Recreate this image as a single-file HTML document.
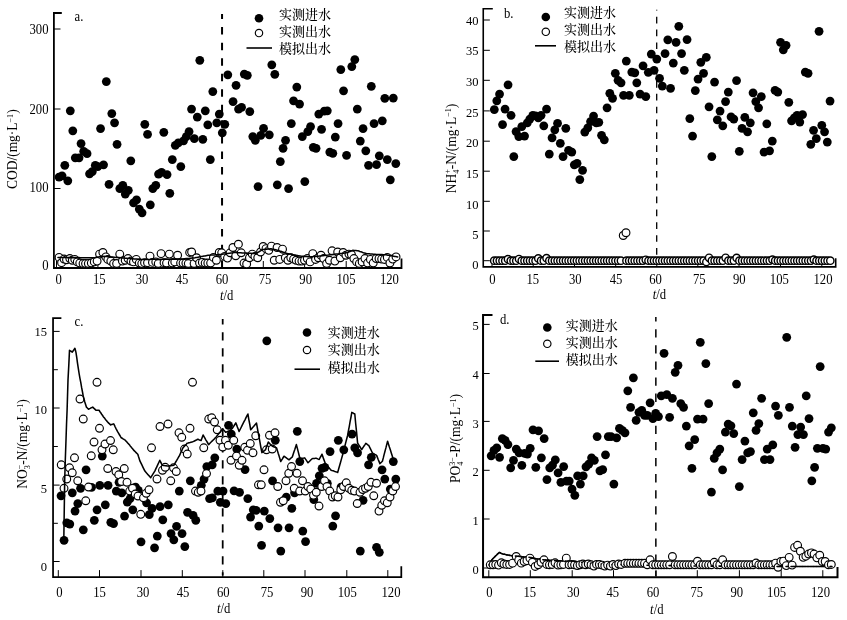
<!DOCTYPE html>
<html lang="zh"><head><meta charset="utf-8"><title>Figure</title>
<style>
html,body{margin:0;padding:0;background:#fff;}
body{width:847px;height:620px;overflow:hidden;}
svg{display:block;}
text{font-family:"Liberation Serif","Noto Serif CJK SC",serif;fill:#000;}
.n{font-size:14.1px;}
.cj{font-family:"Noto Serif CJK SC","Liberation Serif",serif;font-size:13px;font-weight:500;}
.ax{stroke:#000;stroke-width:1.5;fill:none;stroke-linecap:square;}
.tk{stroke:#000;stroke-width:1;fill:none;}
.ln{stroke:#000;stroke-width:1.55;fill:none;stroke-linejoin:round;stroke-linecap:round;}
.ds{stroke:#000;fill:none;}
.f{fill:#000;}
.o{fill:#fff;stroke:#000;stroke-width:1.15;}
</style></head><body>
<svg width="847" height="620" viewBox="0 0 847 620">
<rect width="847" height="620" fill="#fff"/>
<g id="panel-a">
<path class="ax" style="stroke-width:1.8" d="M60.9,13.0H53.9V268H401.5v-8.5"/>
<path class="tk" d="M53.9,29h6.6M53.9,109h6.6M53.9,188.5h6.6M56.5,268v-7M97.9,268v-7M139.3,268v-7M180.7,268v-7M222,268v-7M263.3,268v-7M304.6,268v-7M346.2,268v-7M387.7,268v-7"/>
<text class="n" style="font-size:14.1px" transform="translate(48.5,34.0) scale(0.9,1)" text-anchor="end">300</text>
<text class="n" style="font-size:14.1px" transform="translate(48.5,113.8) scale(0.9,1)" text-anchor="end">200</text>
<text class="n" style="font-size:14.1px" transform="translate(48.5,192.2) scale(0.9,1)" text-anchor="end">100</text>
<text class="n" transform="translate(48.5,269.9) scale(0.9,1)" text-anchor="end">0</text>
<text class="n" transform="translate(58.7,283.7) scale(0.9,1)" text-anchor="middle">0</text>
<text class="n" transform="translate(99.3,283.7) scale(0.9,1)" text-anchor="middle">15</text>
<text class="n" transform="translate(142,283.7) scale(0.9,1)" text-anchor="middle">30</text>
<text class="n" transform="translate(182,283.7) scale(0.9,1)" text-anchor="middle">45</text>
<text class="n" transform="translate(222,283.7) scale(0.9,1)" text-anchor="middle">60</text>
<text class="n" transform="translate(265,283.7) scale(0.9,1)" text-anchor="middle">75</text>
<text class="n" transform="translate(305.7,283.7) scale(0.9,1)" text-anchor="middle">90</text>
<text class="n" transform="translate(346,283.7) scale(0.9,1)" text-anchor="middle">105</text>
<text class="n" transform="translate(389.4,283.7) scale(0.9,1)" text-anchor="middle">120</text>
<text class="n" transform="translate(226.7,299.7) scale(0.9,1)" text-anchor="middle"><tspan font-style="italic">t</tspan>/d</text>
<text class="n" transform="translate(74.5,20.6) scale(0.9,1)">a.</text>
<path class="ds" stroke-width="2.0" stroke-dasharray="7.5 8.04" stroke-dashoffset="2.34" d="M222.05,13.9V267"/>
<circle class="f" cx="259" cy="18.2" r="4.3"/>
<circle class="o" cx="259" cy="33" r="3.7"/>
<path class="tk" style="stroke-width:1.6" d="M246.5,48H272"/>
<text class="cj" x="279" y="18.6">实测进水</text>
<text class="cj" x="279" y="35.9">实测出水</text>
<text class="cj" x="279" y="52.9">模拟出水</text>
</g>
<g id="panel-b">
<path class="ax" style="stroke-width:1.6" d="M492,8.7H483.25V266.9H835.7v-7.8"/>
<path class="tk" d="M483.25,20.0h6.6M483.25,50.3h6.6M483.25,80.3h6.6M483.25,110.9h6.6M483.25,141.2h6.6M483.25,171.2h6.6M483.25,201.3h6.6M483.25,231.0h6.6M483.25,260.7h6.6M492,266.9v-7M533.2,266.9v-7M574.5,266.9v-7M615.7,266.9v-7M656.8,266.9v-7M697.8,266.9v-7M739,266.9v-7M780.5,266.9v-7M821.8,266.9v-7"/>
<text class="n" style="font-size:13.5px" transform="translate(478.6,24.6) scale(0.93,1)" text-anchor="end">40</text>
<text class="n" style="font-size:13.5px" transform="translate(478.6,55.3) scale(0.93,1)" text-anchor="end">35</text>
<text class="n" style="font-size:13.5px" transform="translate(478.6,85.7) scale(0.93,1)" text-anchor="end">30</text>
<text class="n" style="font-size:13.5px" transform="translate(478.6,116.9) scale(0.93,1)" text-anchor="end">25</text>
<text class="n" style="font-size:13.5px" transform="translate(478.6,147.4) scale(0.93,1)" text-anchor="end">20</text>
<text class="n" style="font-size:13.5px" transform="translate(478.6,178.2) scale(0.93,1)" text-anchor="end">15</text>
<text class="n" style="font-size:13.5px" transform="translate(478.6,208.7) scale(0.93,1)" text-anchor="end">10</text>
<text class="n" style="font-size:13.5px" transform="translate(478.6,239.2) scale(0.93,1)" text-anchor="end">5</text>
<text class="n" style="font-size:13.5px" transform="translate(478.6,269.3) scale(0.93,1)" text-anchor="end">0</text>
<text class="n" transform="translate(492.3,283.8) scale(0.9,1)" text-anchor="middle">0</text>
<text class="n" transform="translate(532.8,283.8) scale(0.9,1)" text-anchor="middle">15</text>
<text class="n" transform="translate(575.3,283.8) scale(0.9,1)" text-anchor="middle">30</text>
<text class="n" transform="translate(616,283.8) scale(0.9,1)" text-anchor="middle">45</text>
<text class="n" transform="translate(655.5,283.8) scale(0.9,1)" text-anchor="middle">60</text>
<text class="n" transform="translate(699.3,283.8) scale(0.9,1)" text-anchor="middle">75</text>
<text class="n" transform="translate(739.3,283.8) scale(0.9,1)" text-anchor="middle">90</text>
<text class="n" transform="translate(779.3,283.8) scale(0.9,1)" text-anchor="middle">105</text>
<text class="n" transform="translate(823,283.8) scale(0.9,1)" text-anchor="middle">120</text>
<text class="n" transform="translate(659.5,299.4) scale(0.9,1)" text-anchor="middle"><tspan font-style="italic">t</tspan>/d</text>
<text class="n" transform="translate(504,17.9) scale(0.9,1)">b.</text>
<path class="ds" stroke-width="1.3" stroke-dasharray="6.7 6.15" stroke-dashoffset="5.85" d="M656.7,9.7V257"/>
<circle class="f" cx="545.8" cy="17" r="4.3"/>
<circle class="o" cx="545.8" cy="31.8" r="3.7"/>
<path class="tk" style="stroke-width:1.6" d="M535,45.8H556"/>
<text class="cj" x="564" y="17.1">实测进水</text>
<text class="cj" x="564" y="34.1">实测出水</text>
<text class="cj" x="564" y="50.9">模拟出水</text>
</g>
<g id="panel-c">
<path class="ax" style="stroke-width:1.75" d="M60.5,318H53.05V577.1H401.3v-10"/>
<path class="tk" d="M53.05,331.4h6.6M53.05,408h6.6M53.05,485.1h6.6M53.05,561.5h6.6M53.05,369.7h4.8M53.05,446.5h4.8M53.05,523.3h4.8M58.3,577.1v-7M99.5,577.1v-7M141,577.1v-7M182.3,577.1v-7M222.8,577.1v-7M263.8,577.1v-7M305,577.1v-7M346.8,577.1v-7M387.8,577.1v-7"/>
<text class="n" style="font-size:13.5px" transform="translate(47,336.4) scale(0.93,1)" text-anchor="end">15</text>
<text class="n" style="font-size:13.5px" transform="translate(47,414.4) scale(0.93,1)" text-anchor="end">10</text>
<text class="n" style="font-size:13.5px" transform="translate(47,492.5) scale(0.93,1)" text-anchor="end">5</text>
<text class="n" style="font-size:13.5px" transform="translate(47,570.8) scale(0.93,1)" text-anchor="end">0</text>
<text class="n" transform="translate(59.5,597.0) scale(0.9,1)" text-anchor="middle">0</text>
<text class="n" transform="translate(99.5,597.0) scale(0.9,1)" text-anchor="middle">15</text>
<text class="n" transform="translate(143,597.0) scale(0.9,1)" text-anchor="middle">30</text>
<text class="n" transform="translate(183,597.0) scale(0.9,1)" text-anchor="middle">45</text>
<text class="n" transform="translate(223.3,597.0) scale(0.9,1)" text-anchor="middle">60</text>
<text class="n" transform="translate(267,597.0) scale(0.9,1)" text-anchor="middle">75</text>
<text class="n" transform="translate(307,597.0) scale(0.9,1)" text-anchor="middle">90</text>
<text class="n" transform="translate(347.2,597.0) scale(0.9,1)" text-anchor="middle">105</text>
<text class="n" transform="translate(391,597.0) scale(0.9,1)" text-anchor="middle">120</text>
<text class="n" transform="translate(223.6,613.1) scale(0.9,1)" text-anchor="middle"><tspan font-style="italic">t</tspan>/d</text>
<text class="n" transform="translate(74.5,325.5) scale(0.9,1)">c.</text>
<path class="ds" stroke-width="1.75" stroke-dasharray="8.2 7.8" stroke-dashoffset="2.7" d="M222.7,319V575.5"/>
<circle class="f" cx="307" cy="332.5" r="4.3"/>
<circle class="o" cx="307" cy="350" r="3.7"/>
<path class="tk" style="stroke-width:1.6" d="M294.5,369.2H320"/>
<text class="cj" x="327.8" y="337.1">实测进水</text>
<text class="cj" x="327.8" y="354.1">实测出水</text>
<text class="cj" x="327.8" y="371.6">模拟出水</text>
</g>
<g id="panel-d">
<path class="ax" style="stroke-width:2.0" d="M491.5,315H483.05V577.2H837.5v-9.2"/>
<path class="tk" d="M483.05,324.4h6.6M483.05,373.5h6.6M483.05,421.4h6.6M483.05,470.3h6.6M483.05,519h6.6M483.05,568h6.6M488.8,577.2v-7M530.3,577.2v-7M572.2,577.2v-7M613.5,577.2v-7M656,577.2v-7M697.3,577.2v-7M739.4,577.2v-7M781.2,577.2v-7M822.8,577.2v-7"/>
<text class="n" style="font-size:13.4px" transform="translate(478.7,329.9) scale(0.93,1)" text-anchor="end">5</text>
<text class="n" style="font-size:13.4px" transform="translate(478.7,379.1) scale(0.93,1)" text-anchor="end">4</text>
<text class="n" style="font-size:13.4px" transform="translate(478.7,427.5) scale(0.93,1)" text-anchor="end">3</text>
<text class="n" style="font-size:13.4px" transform="translate(478.7,476.3) scale(0.93,1)" text-anchor="end">2</text>
<text class="n" style="font-size:13.4px" transform="translate(478.7,524.9) scale(0.93,1)" text-anchor="end">1</text>
<text class="n" style="font-size:13.4px" transform="translate(478.7,573.8) scale(0.93,1)" text-anchor="end">0</text>
<text class="n" transform="translate(489.5,597.3) scale(0.9,1)" text-anchor="middle">0</text>
<text class="n" transform="translate(529.8,597.3) scale(0.9,1)" text-anchor="middle">15</text>
<text class="n" transform="translate(573.3,597.3) scale(0.9,1)" text-anchor="middle">30</text>
<text class="n" transform="translate(612.8,597.3) scale(0.9,1)" text-anchor="middle">45</text>
<text class="n" transform="translate(653,597.3) scale(0.9,1)" text-anchor="middle">60</text>
<text class="n" transform="translate(696.8,597.3) scale(0.9,1)" text-anchor="middle">75</text>
<text class="n" transform="translate(736.8,597.3) scale(0.9,1)" text-anchor="middle">90</text>
<text class="n" transform="translate(776.6,597.3) scale(0.9,1)" text-anchor="middle">105</text>
<text class="n" transform="translate(820.5,597.3) scale(0.9,1)" text-anchor="middle">120</text>
<text class="n" transform="translate(656.8,613.7) scale(0.9,1)" text-anchor="middle"><tspan font-style="italic">t</tspan>/d</text>
<text class="n" transform="translate(499.9,323.8) scale(0.9,1)">d.</text>
<path class="ds" stroke-width="1.5" stroke-dasharray="8.3 7.8" stroke-dashoffset="3.9" d="M655.85,317V576"/>
<circle class="f" cx="547.3" cy="327.5" r="4.3"/>
<circle class="o" cx="547.3" cy="343.8" r="3.7"/>
<path class="tk" style="stroke-width:1.6" d="M535.3,361.2H559"/>
<text class="cj" x="565.8" y="329.6">实测进水</text>
<text class="cj" x="565.8" y="346.6">实测出水</text>
<text class="cj" x="565.8" y="364.1">模拟出水</text>
</g>
<text class="n" transform="translate(17,149.2) rotate(-90) scale(0.95,1)" text-anchor="middle" style="font-size:14.2px"><tspan>COD/(mg·L<tspan dy="-4.5" font-size="8.5">−1</tspan><tspan dy="4.5">)</tspan></tspan></text>
<text class="n" transform="translate(455.5,148.5) rotate(-90) scale(0.95,1)" text-anchor="middle" style="font-size:14.2px"><tspan>NH<tspan dy="3" font-size="8.5">4</tspan><tspan dy="-8.5" dx="-4.2" font-size="8.5">+</tspan><tspan dy="5.5">-N/(mg·L</tspan><tspan dy="-4.5" font-size="8.5">−1</tspan><tspan dy="4.5">)</tspan></tspan></text>
<text class="n" transform="translate(27,444) rotate(-90) scale(0.95,1)" text-anchor="middle" style="font-size:14.2px"><tspan>NO<tspan dy="3" font-size="8.5">3</tspan><tspan dy="-8.5" dx="-4.2" font-size="8.5">−</tspan><tspan dy="5.5">-N/(mg·L</tspan><tspan dy="-4.5" font-size="8.5">−1</tspan><tspan dy="4.5">)</tspan></tspan></text>
<text class="n" transform="translate(460,438.5) rotate(-90) scale(0.95,1)" text-anchor="middle" style="font-size:14.2px"><tspan>PO<tspan dy="3" font-size="8.5">4</tspan><tspan dy="-8.5" dx="-4.2" font-size="8.5">3−</tspan><tspan dy="5.5">-P/(mg·L</tspan><tspan dy="-4.5" font-size="8.5">−1</tspan><tspan dy="4.5">)</tspan></tspan></text>
<g id="pts-a">
<circle class="f" cx="59.05" cy="177.05" r="4.4"/>
<circle class="f" cx="62.05" cy="175.8" r="4.4"/>
<circle class="f" cx="64.8" cy="165.3" r="4.4"/>
<circle class="f" cx="67.8" cy="180.8" r="4.4"/>
<circle class="f" cx="70.3" cy="110.8" r="4.4"/>
<circle class="f" cx="72.8" cy="130.8" r="4.4"/>
<circle class="f" cx="75.3" cy="157.8" r="4.4"/>
<circle class="f" cx="79.05" cy="157.8" r="4.4"/>
<circle class="f" cx="81.05" cy="143.55" r="4.4"/>
<circle class="f" cx="83.7" cy="151.3" r="4.4"/>
<circle class="f" cx="87.05" cy="153.7" r="4.4"/>
<circle class="f" cx="89.55" cy="173.8" r="4.4"/>
<circle class="f" cx="92.3" cy="171.55" r="4.4"/>
<circle class="f" cx="95.3" cy="165.3" r="4.4"/>
<circle class="f" cx="97.8" cy="166.55" r="4.4"/>
<circle class="f" cx="100.55" cy="128.55" r="4.4"/>
<circle class="f" cx="103.55" cy="164.8" r="4.4"/>
<circle class="f" cx="106.3" cy="81.55" r="4.4"/>
<circle class="f" cx="109.05" cy="184.3" r="4.4"/>
<circle class="f" cx="111.8" cy="113.55" r="4.4"/>
<circle class="f" cx="114.55" cy="122.8" r="4.4"/>
<circle class="f" cx="117.05" cy="144.3" r="4.4"/>
<circle class="f" cx="119.8" cy="188.55" r="4.4"/>
<circle class="f" cx="122.8" cy="185.3" r="4.4"/>
<circle class="f" cx="125.3" cy="194.05" r="4.4"/>
<circle class="f" cx="128.3" cy="190.3" r="4.4"/>
<circle class="f" cx="130.8" cy="160.8" r="4.4"/>
<circle class="f" cx="133.55" cy="202.8" r="4.4"/>
<circle class="f" cx="136.55" cy="199.8" r="4.4"/>
<circle class="f" cx="139.3" cy="209.05" r="4.4"/>
<circle class="f" cx="142.05" cy="212.8" r="4.4"/>
<circle class="f" cx="144.8" cy="124.3" r="4.4"/>
<circle class="f" cx="147.55" cy="134.3" r="4.4"/>
<circle class="f" cx="150.3" cy="204.8" r="4.4"/>
<circle class="f" cx="152.8" cy="188.55" r="4.4"/>
<circle class="f" cx="155.8" cy="185.3" r="4.4"/>
<circle class="f" cx="158.55" cy="174.05" r="4.4"/>
<circle class="f" cx="161.55" cy="172.3" r="4.4"/>
<circle class="f" cx="163.8" cy="132.3" r="4.4"/>
<circle class="f" cx="167.05" cy="174.55" r="4.4"/>
<circle class="f" cx="169.8" cy="193.3" r="4.4"/>
<circle class="f" cx="172.3" cy="159.55" r="4.4"/>
<circle class="f" cx="175.3" cy="145.3" r="4.4"/>
<circle class="f" cx="178.3" cy="142.8" r="4.4"/>
<circle class="f" cx="180.8" cy="166.55" r="4.4"/>
<circle class="f" cx="183.55" cy="140.8" r="4.4"/>
<circle class="f" cx="186.3" cy="136.55" r="4.4"/>
<circle class="f" cx="189.05" cy="131.55" r="4.4"/>
<circle class="f" cx="191.55" cy="109.05" r="4.4"/>
<circle class="f" cx="194.3" cy="138.55" r="4.4"/>
<circle class="f" cx="197.3" cy="117.05" r="4.4"/>
<circle class="f" cx="199.8" cy="60.3" r="4.4"/>
<circle class="f" cx="202.8" cy="139.3" r="4.4"/>
<circle class="f" cx="205.3" cy="110.8" r="4.4"/>
<circle class="f" cx="207.8" cy="124.8" r="4.4"/>
<circle class="f" cx="210.3" cy="159.55" r="4.4"/>
<circle class="f" cx="212.8" cy="91.55" r="4.4"/>
<circle class="f" cx="216.8" cy="122.8" r="4.4"/>
<circle class="f" cx="219.3" cy="114.05" r="4.4"/>
<circle class="f" cx="222.3" cy="132.8" r="4.4"/>
<circle class="f" cx="224.8" cy="124.3" r="4.4"/>
<circle class="f" cx="227.8" cy="74.8" r="4.4"/>
<circle class="f" cx="233.05" cy="101.55" r="4.4"/>
<circle class="f" cx="236.05" cy="85.3" r="4.4"/>
<circle class="f" cx="238.55" cy="109.05" r="4.4"/>
<circle class="f" cx="241.55" cy="107.3" r="4.4"/>
<circle class="f" cx="244.3" cy="74.05" r="4.4"/>
<circle class="f" cx="247.3" cy="75.3" r="4.4"/>
<circle class="f" cx="249.8" cy="111.55" r="4.4"/>
<circle class="f" cx="252.8" cy="136.55" r="4.4"/>
<circle class="f" cx="255.3" cy="140.3" r="4.4"/>
<circle class="f" cx="258.05" cy="186.55" r="4.4"/>
<circle class="f" cx="260.8" cy="135.3" r="4.4"/>
<circle class="f" cx="263.55" cy="128.3" r="4.4"/>
<circle class="f" cx="269.3" cy="134.8" r="4.4"/>
<circle class="f" cx="271.8" cy="64.8" r="4.4"/>
<circle class="f" cx="274.8" cy="74.3" r="4.4"/>
<circle class="f" cx="277.3" cy="184.8" r="4.4"/>
<circle class="f" cx="280.3" cy="161.55" r="4.4"/>
<circle class="f" cx="283.05" cy="148.3" r="4.4"/>
<circle class="f" cx="285.55" cy="140.3" r="4.4"/>
<circle class="f" cx="288.55" cy="188.55" r="4.4"/>
<circle class="f" cx="291.3" cy="123.55" r="4.4"/>
<circle class="f" cx="293.55" cy="100.8" r="4.4"/>
<circle class="f" cx="296.8" cy="87.05" r="4.4"/>
<circle class="f" cx="299.55" cy="104.05" r="4.4"/>
<circle class="f" cx="302.3" cy="136.55" r="4.4"/>
<circle class="f" cx="304.8" cy="181.55" r="4.4"/>
<circle class="f" cx="307.8" cy="131.55" r="4.4"/>
<circle class="f" cx="310.55" cy="126.55" r="4.4"/>
<circle class="f" cx="313.3" cy="147.3" r="4.4"/>
<circle class="f" cx="316.05" cy="148.3" r="4.4"/>
<circle class="f" cx="318.8" cy="114.05" r="4.4"/>
<circle class="f" cx="321.55" cy="129.3" r="4.4"/>
<circle class="f" cx="324.3" cy="111.05" r="4.4"/>
<circle class="f" cx="327.3" cy="110.8" r="4.4"/>
<circle class="f" cx="329.8" cy="152.05" r="4.4"/>
<circle class="f" cx="332.8" cy="153.3" r="4.4"/>
<circle class="f" cx="335.3" cy="137.05" r="4.4"/>
<circle class="f" cx="338.05" cy="123.55" r="4.4"/>
<circle class="f" cx="340.8" cy="69.55" r="4.4"/>
<circle class="f" cx="343.55" cy="90.8" r="4.4"/>
<circle class="f" cx="346.55" cy="155.3" r="4.4"/>
<circle class="f" cx="351.8" cy="66.55" r="4.4"/>
<circle class="f" cx="354.8" cy="59.55" r="4.4"/>
<circle class="f" cx="357.3" cy="109.05" r="4.4"/>
<circle class="f" cx="360.3" cy="141.05" r="4.4"/>
<circle class="f" cx="363.05" cy="128.55" r="4.4"/>
<circle class="f" cx="365.8" cy="150.8" r="4.4"/>
<circle class="f" cx="368.55" cy="165.3" r="4.4"/>
<circle class="f" cx="371.3" cy="86.3" r="4.4"/>
<circle class="f" cx="374.05" cy="123.55" r="4.4"/>
<circle class="f" cx="376.55" cy="164.55" r="4.4"/>
<circle class="f" cx="379.3" cy="155.8" r="4.4"/>
<circle class="f" cx="382.3" cy="120.8" r="4.4"/>
<circle class="f" cx="384.8" cy="98.3" r="4.4"/>
<circle class="f" cx="387.3" cy="159.55" r="4.4"/>
<circle class="f" cx="390.3" cy="179.8" r="4.4"/>
<circle class="f" cx="393.3" cy="98.05" r="4.4"/>
<circle class="f" cx="395.8" cy="163.55" r="4.4"/>
<circle class="o" cx="59.09" cy="257.42" r="3.9"/>
<circle class="o" cx="61.57" cy="262.71" r="3.9"/>
<circle class="o" cx="64.05" cy="259.07" r="3.9"/>
<circle class="o" cx="66.53" cy="259.74" r="3.9"/>
<circle class="o" cx="69.83" cy="258.58" r="3.9"/>
<circle class="o" cx="72.31" cy="260.23" r="3.9"/>
<circle class="o" cx="74.79" cy="259.4" r="3.9"/>
<circle class="o" cx="77.27" cy="261.88" r="3.9"/>
<circle class="o" cx="79.75" cy="263.04" r="3.9"/>
<circle class="o" cx="83.06" cy="263.54" r="3.9"/>
<circle class="o" cx="85.54" cy="263.54" r="3.9"/>
<circle class="o" cx="88.35" cy="263.54" r="3.9"/>
<circle class="o" cx="91.32" cy="263.04" r="3.9"/>
<circle class="o" cx="94.3" cy="261.88" r="3.9"/>
<circle class="o" cx="97.11" cy="261.06" r="3.9"/>
<circle class="o" cx="99.59" cy="254.12" r="3.9"/>
<circle class="o" cx="102.89" cy="252.46" r="3.9"/>
<circle class="o" cx="105.87" cy="256.93" r="3.9"/>
<circle class="o" cx="107.85" cy="259.4" r="3.9"/>
<circle class="o" cx="110.83" cy="261.06" r="3.9"/>
<circle class="o" cx="113.64" cy="263.54" r="3.9"/>
<circle class="o" cx="116.61" cy="263.54" r="3.9"/>
<circle class="o" cx="119.75" cy="254.12" r="3.9"/>
<circle class="o" cx="122.4" cy="261.06" r="3.9"/>
<circle class="o" cx="125.21" cy="260.23" r="3.9"/>
<circle class="o" cx="128.02" cy="258.58" r="3.9"/>
<circle class="o" cx="130.99" cy="261.06" r="3.9"/>
<circle class="o" cx="133.47" cy="261.88" r="3.9"/>
<circle class="o" cx="136.28" cy="259.4" r="3.9"/>
<circle class="o" cx="139.26" cy="263.04" r="3.9"/>
<circle class="o" cx="141.74" cy="263.54" r="3.9"/>
<circle class="o" cx="144.55" cy="262.71" r="3.9"/>
<circle class="o" cx="147.52" cy="262.71" r="3.9"/>
<circle class="o" cx="150.0" cy="256.1" r="3.9"/>
<circle class="o" cx="152.48" cy="262.38" r="3.9"/>
<circle class="o" cx="155.79" cy="261.88" r="3.9"/>
<circle class="o" cx="158.26" cy="263.54" r="3.9"/>
<circle class="o" cx="161.07" cy="253.62" r="3.9"/>
<circle class="o" cx="164.05" cy="262.71" r="3.9"/>
<circle class="o" cx="166.53" cy="263.04" r="3.9"/>
<circle class="o" cx="169.34" cy="254.12" r="3.9"/>
<circle class="o" cx="172.31" cy="263.04" r="3.9"/>
<circle class="o" cx="174.79" cy="261.88" r="3.9"/>
<circle class="o" cx="177.6" cy="255.27" r="3.9"/>
<circle class="o" cx="180.58" cy="263.04" r="3.9"/>
<circle class="o" cx="183.06" cy="263.04" r="3.9"/>
<circle class="o" cx="185.87" cy="263.04" r="3.9"/>
<circle class="o" cx="188.31" cy="263.54" r="3.9"/>
<circle class="o" cx="189.67" cy="252.46" r="3.9"/>
<circle class="o" cx="191.61" cy="251.97" r="3.9"/>
<circle class="o" cx="194.09" cy="263.54" r="3.9"/>
<circle class="o" cx="196.57" cy="257.75" r="3.9"/>
<circle class="o" cx="199.55" cy="263.04" r="3.9"/>
<circle class="o" cx="202.36" cy="262.38" r="3.9"/>
<circle class="o" cx="205.17" cy="263.04" r="3.9"/>
<circle class="o" cx="207.81" cy="263.04" r="3.9"/>
<circle class="o" cx="210.62" cy="263.04" r="3.9"/>
<circle class="o" cx="213.43" cy="257.42" r="3.9"/>
<circle class="o" cx="216.4" cy="260.23" r="3.9"/>
<circle class="o" cx="219.21" cy="252.46" r="3.9"/>
<circle class="o" cx="221.69" cy="252.79" r="3.9"/>
<circle class="o" cx="224.67" cy="256.43" r="3.9"/>
<circle class="o" cx="227.48" cy="258.08" r="3.9"/>
<circle class="o" cx="230.12" cy="252.79" r="3.9"/>
<circle class="o" cx="232.93" cy="247.5" r="3.9"/>
<circle class="o" cx="235.74" cy="255.77" r="3.9"/>
<circle class="o" cx="238.39" cy="244.2" r="3.9"/>
<circle class="o" cx="241.2" cy="252.79" r="3.9"/>
<circle class="o" cx="244.01" cy="263.04" r="3.9"/>
<circle class="o" cx="246.65" cy="264.03" r="3.9"/>
<circle class="o" cx="249.46" cy="257.75" r="3.9"/>
<circle class="o" cx="252.27" cy="254.12" r="3.9"/>
<circle class="o" cx="254.92" cy="256.43" r="3.9"/>
<circle class="o" cx="257.73" cy="257.75" r="3.9"/>
<circle class="o" cx="260.54" cy="251.97" r="3.9"/>
<circle class="o" cx="263.18" cy="246.51" r="3.9"/>
<circle class="o" cx="265.99" cy="248.66" r="3.9"/>
<circle class="o" cx="268.8" cy="250.31" r="3.9"/>
<circle class="o" cx="271.45" cy="246.18" r="3.9"/>
<circle class="o" cx="274.26" cy="260.23" r="3.9"/>
<circle class="o" cx="277.07" cy="247.5" r="3.9"/>
<circle class="o" cx="279.71" cy="259.4" r="3.9"/>
<circle class="o" cx="282.52" cy="249.16" r="3.9"/>
<circle class="o" cx="285.33" cy="257.75" r="3.9"/>
<circle class="o" cx="287.98" cy="260.23" r="3.9"/>
<circle class="o" cx="290.79" cy="257.75" r="3.9"/>
<circle class="o" cx="293.6" cy="259.07" r="3.9"/>
<circle class="o" cx="296.24" cy="260.23" r="3.9"/>
<circle class="o" cx="299.05" cy="261.06" r="3.9"/>
<circle class="o" cx="301.86" cy="261.06" r="3.9"/>
<circle class="o" cx="304.5" cy="260.23" r="3.9"/>
<circle class="o" cx="307.31" cy="258.58" r="3.9"/>
<circle class="o" cx="310.12" cy="261.88" r="3.9"/>
<circle class="o" cx="312.77" cy="253.62" r="3.9"/>
<circle class="o" cx="315.58" cy="259.4" r="3.9"/>
<circle class="o" cx="318.39" cy="257.75" r="3.9"/>
<circle class="o" cx="321.03" cy="255.27" r="3.9"/>
<circle class="o" cx="323.64" cy="258.58" r="3.9"/>
<circle class="o" cx="326.61" cy="263.54" r="3.9"/>
<circle class="o" cx="329.42" cy="260.23" r="3.9"/>
<circle class="o" cx="332.07" cy="250.81" r="3.9"/>
<circle class="o" cx="334.88" cy="261.06" r="3.9"/>
<circle class="o" cx="337.69" cy="251.97" r="3.9"/>
<circle class="o" cx="340.33" cy="257.75" r="3.9"/>
<circle class="o" cx="343.14" cy="252.46" r="3.9"/>
<circle class="o" cx="345.95" cy="255.27" r="3.9"/>
<circle class="o" cx="348.93" cy="254.12" r="3.9"/>
<circle class="o" cx="351.4" cy="254.45" r="3.9"/>
<circle class="o" cx="353.88" cy="258.58" r="3.9"/>
<circle class="o" cx="356.69" cy="261.88" r="3.9"/>
<circle class="o" cx="359.34" cy="263.54" r="3.9"/>
<circle class="o" cx="362.15" cy="261.88" r="3.9"/>
<circle class="o" cx="364.96" cy="258.58" r="3.9"/>
<circle class="o" cx="367.6" cy="263.04" r="3.9"/>
<circle class="o" cx="370.41" cy="259.4" r="3.9"/>
<circle class="o" cx="373.22" cy="263.04" r="3.9"/>
<circle class="o" cx="376.2" cy="258.58" r="3.9"/>
<circle class="o" cx="379.01" cy="258.58" r="3.9"/>
<circle class="o" cx="381.65" cy="259.07" r="3.9"/>
<circle class="o" cx="384.46" cy="259.4" r="3.9"/>
<circle class="o" cx="387.27" cy="257.42" r="3.9"/>
<circle class="o" cx="389.92" cy="263.04" r="3.9"/>
<circle class="o" cx="392.73" cy="259.07" r="3.9"/>
<circle class="o" cx="396.03" cy="256.93" r="3.9"/>
<polyline class="ln" points="58.0,257.5 59.0,257.5 60.0,257.5 61.0,257.5 62.0,257.5 63.0,257.5 64.0,257.5 65.0,257.5 66.0,257.5 67.0,257.6 68.0,257.6 69.0,257.6 70.0,257.6 71.0,257.6 72.0,257.6 73.0,257.6 74.0,257.6 75.0,257.6 76.0,257.6 77.0,257.6 78.0,257.6 79.0,257.6 80.0,257.7 81.0,257.7 82.0,257.7 83.0,257.7 84.0,257.7 85.0,257.7 86.0,257.7 87.0,257.7 88.0,257.7 89.0,257.7 90.0,257.8 91.0,257.8 92.0,257.8 93.0,257.8 94.0,257.8 95.0,257.8 96.0,257.5 97.0,257.3 98.0,257.0 99.0,256.8 100.0,256.5 101.0,256.4 102.0,256.4 103.0,256.4 104.0,256.3 105.0,256.4 106.0,256.5 107.0,256.6 108.0,256.6 109.0,256.7 110.0,256.8 111.0,256.9 112.0,257.0 113.0,257.1 114.0,257.2 115.0,257.3 116.0,257.4 117.0,257.5 118.0,257.6 119.0,257.6 120.0,257.7 121.0,257.8 122.0,257.9 123.0,258.0 124.0,258.1 125.0,258.2 126.0,258.3 127.0,258.3 128.0,258.4 129.0,258.5 130.0,258.6 131.0,258.6 132.0,258.7 133.0,258.8 134.0,258.9 135.0,258.9 136.0,259.0 137.0,259.1 138.0,259.2 139.0,259.2 140.0,259.3 141.0,259.4 142.0,259.4 143.0,259.4 144.0,259.4 145.0,259.4 146.0,259.4 147.0,259.4 148.0,259.4 149.0,259.4 150.0,259.4 151.0,259.3 152.0,259.3 153.0,259.3 154.0,259.3 155.0,259.3 156.0,259.3 157.0,259.3 158.0,259.3 159.0,259.3 160.0,259.3 161.0,259.3 162.0,259.3 163.0,259.3 164.0,259.2 165.0,259.2 166.0,259.2 167.0,259.2 168.0,259.2 169.0,259.2 170.0,259.2 171.0,259.1 172.0,259.1 173.0,259.1 174.0,259.1 175.0,259.1 176.0,259.1 177.0,259.1 178.0,259.1 179.0,259.0 180.0,259.0 181.0,259.0 182.0,259.0 183.0,258.9 184.0,258.8 185.0,258.7 186.0,258.6 187.0,258.5 188.0,258.4 189.0,258.4 190.0,258.3 191.0,258.2 192.0,258.1 193.0,258.0 194.0,257.9 195.0,257.8 196.0,257.6 197.0,257.4 198.0,257.2 199.0,257.0 200.0,256.8 201.0,256.6 202.0,256.5 203.0,256.3 204.0,256.1 205.0,255.9 206.0,255.7 207.0,255.5 208.0,255.3 209.0,255.2 209.9,255.2 210.9,255.1 211.8,255.0 212.8,255.0 213.7,254.9 214.7,254.9 215.7,254.8 216.6,254.7 217.6,254.7 218.5,254.6 219.5,254.5 220.4,254.5 221.4,254.4 222.3,254.3 223.3,254.1 224.2,254.0 225.2,253.9 226.1,253.7 227.1,253.6 228.0,253.4 228.9,253.3 229.9,253.2 230.8,253.0 231.8,252.9 232.7,252.8 233.7,252.6 234.6,252.5 235.5,252.5 236.4,252.6 237.3,252.6 238.3,252.7 239.2,252.7 240.1,252.8 241.0,252.8 242.0,252.9 243.0,252.9 244.0,253.0 245.0,253.0 246.0,253.1 247.0,253.1 248.0,253.2 249.0,253.2 250.0,253.3 251.0,253.3 252.0,253.4 253.0,253.4 254.0,253.5 255.0,253.5 256.0,253.6 257.0,253.0 257.9,252.4 258.9,251.8 259.8,251.3 260.8,250.7 261.7,250.1 262.7,249.5 263.6,249.4 264.5,249.3 265.5,249.2 266.4,249.1 267.3,249.1 268.2,249.0 269.2,248.9 270.1,248.8 271.0,248.7 271.9,248.9 272.9,249.2 273.8,249.4 274.8,249.6 275.7,249.8 276.7,250.1 277.6,250.3 278.6,250.6 279.6,251.0 280.6,251.3 281.6,251.6 282.6,251.9 283.5,252.3 284.5,252.6 285.5,252.9 286.5,253.3 287.5,253.6 288.4,253.8 289.4,254.0 290.3,254.1 291.3,254.3 292.2,254.5 293.2,254.7 294.1,254.9 295.0,255.0 296.0,255.2 296.9,255.4 297.9,255.6 298.8,255.7 299.8,255.9 300.7,256.1 301.7,256.2 302.7,256.3 303.7,256.3 304.7,256.4 305.6,256.5 306.6,256.6 307.6,256.7 308.6,256.7 309.6,256.8 310.6,256.9 311.5,256.8 312.5,256.7 313.4,256.6 314.4,256.5 315.3,256.4 316.2,256.4 317.2,256.3 318.1,256.2 319.1,256.1 320.0,256.0 321.0,255.9 322.0,255.8 323.0,255.7 324.0,255.5 325.0,255.4 326.0,255.3 327.0,255.2 328.0,255.1 329.0,254.9 330.0,254.8 331.0,254.7 332.0,254.6 333.0,254.5 333.9,254.4 334.9,254.2 335.8,254.1 336.8,254.0 337.8,253.9 338.7,253.8 339.7,253.6 340.6,253.5 341.6,253.4 342.6,253.3 343.5,253.2 344.5,253.0 345.4,252.9 346.4,252.8 347.3,252.4 348.3,252.1 349.2,251.7 350.2,251.4 351.1,251.0 352.1,250.7 353.0,250.3 354.0,250.4 355.0,250.5 356.0,250.6 357.0,250.7 358.0,250.8 358.9,251.1 359.8,251.4 360.8,251.7 361.7,252.0 362.6,252.4 363.5,252.7 364.5,253.0 365.4,253.3 366.3,253.6 367.3,253.7 368.3,253.8 369.3,253.8 370.3,253.9 371.2,254.0 372.2,254.1 373.2,254.2 374.2,254.2 375.2,254.3 376.2,254.4 377.2,254.4 378.2,254.5 379.1,254.5 380.1,254.6 381.1,254.6 382.1,254.6 383.1,254.7 384.0,254.7 385.0,254.8 386.0,254.8 387.0,255.0 387.9,255.2 388.9,255.3 389.9,255.5 390.9,255.7 391.9,255.8 392.8,256.0 393.8,256.2 394.8,256.4 395.8,256.5 396.7,256.7 397.7,256.9"/>
</g>
<g id="pts-b">
<circle class="o" style="stroke-width:1.4" cx="494.2" cy="260.7" r="3.65"/>
<circle class="f" cx="494.3" cy="109.55" r="4.4"/>
<circle class="f" cx="496.8" cy="100.8" r="4.4"/>
<circle class="o" style="stroke-width:1.4" cx="496.95" cy="260.7" r="3.65"/>
<circle class="f" cx="499.55" cy="94.05" r="4.4"/>
<circle class="o" style="stroke-width:1.4" cx="499.71" cy="260.7" r="3.65"/>
<circle class="o" style="stroke-width:1.4" cx="502.46" cy="260.7" r="3.65"/>
<circle class="f" cx="502.55" cy="124.55" r="4.4"/>
<circle class="f" cx="505.05" cy="109.05" r="4.4"/>
<circle class="o" style="stroke-width:1.4" cx="505.22" cy="260.7" r="3.65"/>
<circle class="o" style="stroke-width:1.4" cx="507.97" cy="259.2" r="3.65"/>
<circle class="f" cx="508.05" cy="84.8" r="4.4"/>
<circle class="o" style="stroke-width:1.4" cx="510.73" cy="260.7" r="3.65"/>
<circle class="f" cx="511.05" cy="115.3" r="4.4"/>
<circle class="o" style="stroke-width:1.4" cx="513.49" cy="260.7" r="3.65"/>
<circle class="f" cx="513.8" cy="156.55" r="4.4"/>
<circle class="f" cx="516.05" cy="131.55" r="4.4"/>
<circle class="o" style="stroke-width:1.4" cx="516.24" cy="260.7" r="3.65"/>
<circle class="f" cx="518.8" cy="136.55" r="4.4"/>
<circle class="o" style="stroke-width:1.4" cx="519.0" cy="259" r="3.65"/>
<circle class="o" style="stroke-width:1.4" cx="521.75" cy="260.7" r="3.65"/>
<circle class="f" cx="521.8" cy="126.55" r="4.4"/>
<circle class="o" style="stroke-width:1.4" cx="524.5" cy="260.7" r="3.65"/>
<circle class="f" cx="524.55" cy="136.05" r="4.4"/>
<circle class="o" style="stroke-width:1.4" cx="527.26" cy="260.7" r="3.65"/>
<circle class="f" cx="527.3" cy="122.8" r="4.4"/>
<circle class="f" cx="529.8" cy="119.05" r="4.4"/>
<circle class="o" style="stroke-width:1.4" cx="530.01" cy="260.7" r="3.65"/>
<circle class="o" style="stroke-width:1.4" cx="532.77" cy="260.7" r="3.65"/>
<circle class="f" cx="532.8" cy="115.3" r="4.4"/>
<circle class="o" style="stroke-width:1.4" cx="535.52" cy="260.7" r="3.65"/>
<circle class="f" cx="535.55" cy="115.8" r="4.4"/>
<circle class="o" style="stroke-width:1.4" cx="538.28" cy="258.4" r="3.65"/>
<circle class="f" cx="538.3" cy="117.8" r="4.4"/>
<circle class="o" style="stroke-width:1.4" cx="541.03" cy="260.7" r="3.65"/>
<circle class="f" cx="541.05" cy="115.3" r="4.4"/>
<circle class="o" style="stroke-width:1.4" cx="543.79" cy="260.7" r="3.65"/>
<circle class="f" cx="543.8" cy="125.8" r="4.4"/>
<circle class="o" style="stroke-width:1.4" cx="546.54" cy="258.2" r="3.65"/>
<circle class="f" cx="546.55" cy="109.05" r="4.4"/>
<circle class="f" cx="549.3" cy="154.05" r="4.4"/>
<circle class="o" style="stroke-width:1.4" cx="549.3" cy="260.7" r="3.65"/>
<circle class="f" cx="552.05" cy="137.8" r="4.4"/>
<circle class="o" style="stroke-width:1.4" cx="552.05" cy="260.7" r="3.65"/>
<circle class="f" cx="554.8" cy="129.8" r="4.4"/>
<circle class="o" style="stroke-width:1.4" cx="554.81" cy="260.7" r="3.65"/>
<circle class="f" cx="557.55" cy="123.3" r="4.4"/>
<circle class="o" style="stroke-width:1.4" cx="557.56" cy="260.7" r="3.65"/>
<circle class="f" cx="560.3" cy="143.3" r="4.4"/>
<circle class="o" style="stroke-width:1.4" cx="560.32" cy="260.7" r="3.65"/>
<circle class="f" cx="563.05" cy="156.55" r="4.4"/>
<circle class="o" style="stroke-width:1.4" cx="563.08" cy="260.7" r="3.65"/>
<circle class="f" cx="565.8" cy="128.3" r="4.4"/>
<circle class="o" style="stroke-width:1.4" cx="565.83" cy="260.7" r="3.65"/>
<circle class="f" cx="568.55" cy="150.3" r="4.4"/>
<circle class="o" style="stroke-width:1.4" cx="568.59" cy="260.7" r="3.65"/>
<circle class="o" style="stroke-width:1.4" cx="571.34" cy="260.7" r="3.65"/>
<circle class="f" cx="571.8" cy="152.05" r="4.4"/>
<circle class="o" style="stroke-width:1.4" cx="574.1" cy="260.7" r="3.65"/>
<circle class="f" cx="574.3" cy="164.8" r="4.4"/>
<circle class="o" style="stroke-width:1.4" cx="576.85" cy="260.7" r="3.65"/>
<circle class="f" cx="577.05" cy="163.3" r="4.4"/>
<circle class="o" style="stroke-width:1.4" cx="579.61" cy="260.7" r="3.65"/>
<circle class="f" cx="579.8" cy="179.55" r="4.4"/>
<circle class="o" style="stroke-width:1.4" cx="582.36" cy="260.7" r="3.65"/>
<circle class="f" cx="582.55" cy="170.3" r="4.4"/>
<circle class="f" cx="584.8" cy="132.05" r="4.4"/>
<circle class="o" style="stroke-width:1.4" cx="585.12" cy="260.7" r="3.65"/>
<circle class="f" cx="587.8" cy="127.8" r="4.4"/>
<circle class="o" style="stroke-width:1.4" cx="587.87" cy="260.7" r="3.65"/>
<circle class="f" cx="590.55" cy="121.55" r="4.4"/>
<circle class="o" style="stroke-width:1.4" cx="590.62" cy="260.7" r="3.65"/>
<circle class="o" style="stroke-width:1.4" cx="593.38" cy="260.7" r="3.65"/>
<circle class="f" cx="593.55" cy="116.05" r="4.4"/>
<circle class="o" style="stroke-width:1.4" cx="596.13" cy="260.7" r="3.65"/>
<circle class="f" cx="596.3" cy="122.8" r="4.4"/>
<circle class="f" cx="598.8" cy="122.3" r="4.4"/>
<circle class="o" style="stroke-width:1.4" cx="598.89" cy="260.7" r="3.65"/>
<circle class="f" cx="601.55" cy="135.3" r="4.4"/>
<circle class="o" style="stroke-width:1.4" cx="601.64" cy="260.7" r="3.65"/>
<circle class="f" cx="604.3" cy="139.8" r="4.4"/>
<circle class="o" style="stroke-width:1.4" cx="604.4" cy="260.7" r="3.65"/>
<circle class="f" cx="607.05" cy="107.8" r="4.4"/>
<circle class="o" style="stroke-width:1.4" cx="607.15" cy="260.7" r="3.65"/>
<circle class="f" cx="609.8" cy="93.3" r="4.4"/>
<circle class="o" style="stroke-width:1.4" cx="609.91" cy="260.7" r="3.65"/>
<circle class="f" cx="612.55" cy="98.3" r="4.4"/>
<circle class="o" style="stroke-width:1.4" cx="612.66" cy="260.7" r="3.65"/>
<circle class="f" cx="615.3" cy="73.3" r="4.4"/>
<circle class="o" style="stroke-width:1.4" cx="615.42" cy="260.7" r="3.65"/>
<circle class="f" cx="618.05" cy="80.3" r="4.4"/>
<circle class="o" style="stroke-width:1.4" cx="618.17" cy="260.7" r="3.65"/>
<circle class="o" style="stroke-width:1.4" cx="620.93" cy="260.7" r="3.65"/>
<circle class="f" cx="621.05" cy="82.8" r="4.4"/>
<circle class="o" cx="623.25" cy="235.5" r="3.9"/>
<circle class="f" cx="623.55" cy="95.3" r="4.4"/>
<circle class="o" cx="626" cy="232.75" r="3.9"/>
<circle class="f" cx="626.3" cy="61.05" r="4.4"/>
<circle class="o" style="stroke-width:1.4" cx="626.44" cy="260.7" r="3.65"/>
<circle class="o" style="stroke-width:1.4" cx="629.19" cy="260.7" r="3.65"/>
<circle class="f" cx="629.3" cy="95.3" r="4.4"/>
<circle class="f" cx="631.8" cy="72.05" r="4.4"/>
<circle class="o" style="stroke-width:1.4" cx="631.95" cy="260.7" r="3.65"/>
<circle class="o" style="stroke-width:1.4" cx="634.7" cy="260.7" r="3.65"/>
<circle class="f" cx="634.8" cy="72.8" r="4.4"/>
<circle class="f" cx="636.8" cy="82.8" r="4.4"/>
<circle class="o" style="stroke-width:1.4" cx="637.46" cy="260.7" r="3.65"/>
<circle class="f" cx="640.05" cy="94.05" r="4.4"/>
<circle class="o" style="stroke-width:1.4" cx="640.21" cy="260.7" r="3.65"/>
<circle class="o" style="stroke-width:1.4" cx="642.97" cy="260.7" r="3.65"/>
<circle class="f" cx="643.05" cy="65.8" r="4.4"/>
<circle class="o" style="stroke-width:1.4" cx="645.73" cy="259.8" r="3.65"/>
<circle class="f" cx="645.8" cy="96.55" r="4.4"/>
<circle class="f" cx="648.3" cy="72.3" r="4.4"/>
<circle class="o" style="stroke-width:1.4" cx="648.48" cy="260.7" r="3.65"/>
<circle class="o" style="stroke-width:1.4" cx="651.24" cy="260.7" r="3.65"/>
<circle class="f" cx="651.3" cy="54.05" r="4.4"/>
<circle class="o" style="stroke-width:1.4" cx="653.99" cy="260.7" r="3.65"/>
<circle class="f" cx="654.05" cy="70.3" r="4.4"/>
<circle class="o" style="stroke-width:1.4" cx="656.75" cy="260.7" r="3.65"/>
<circle class="f" cx="656.8" cy="59.05" r="4.4"/>
<circle class="o" style="stroke-width:1.4" cx="659.5" cy="260.7" r="3.65"/>
<circle class="f" cx="659.55" cy="78.3" r="4.4"/>
<circle class="o" style="stroke-width:1.4" cx="662.25" cy="260.7" r="3.65"/>
<circle class="f" cx="662.3" cy="86.05" r="4.4"/>
<circle class="o" style="stroke-width:1.4" cx="665.01" cy="260.7" r="3.65"/>
<circle class="f" cx="665.05" cy="53.55" r="4.4"/>
<circle class="o" style="stroke-width:1.4" cx="667.76" cy="260.7" r="3.65"/>
<circle class="f" cx="667.8" cy="39.8" r="4.4"/>
<circle class="o" style="stroke-width:1.4" cx="670.52" cy="260.7" r="3.65"/>
<circle class="f" cx="670.55" cy="88.3" r="4.4"/>
<circle class="o" style="stroke-width:1.4" cx="673.27" cy="260.7" r="3.65"/>
<circle class="f" cx="673.3" cy="63.05" r="4.4"/>
<circle class="o" style="stroke-width:1.4" cx="676.03" cy="260.7" r="3.65"/>
<circle class="f" cx="676.05" cy="42.3" r="4.4"/>
<circle class="o" style="stroke-width:1.4" cx="678.78" cy="260.7" r="3.65"/>
<circle class="f" cx="678.8" cy="26.3" r="4.4"/>
<circle class="o" style="stroke-width:1.4" cx="681.54" cy="260.7" r="3.65"/>
<circle class="f" cx="681.55" cy="53.55" r="4.4"/>
<circle class="o" style="stroke-width:1.4" cx="684.29" cy="260.7" r="3.65"/>
<circle class="f" cx="684.3" cy="70.3" r="4.4"/>
<circle class="f" cx="687.05" cy="39.55" r="4.4"/>
<circle class="o" style="stroke-width:1.4" cx="687.05" cy="260.7" r="3.65"/>
<circle class="f" cx="689.8" cy="118.55" r="4.4"/>
<circle class="o" style="stroke-width:1.4" cx="689.8" cy="260.7" r="3.65"/>
<circle class="f" cx="692.55" cy="136.05" r="4.4"/>
<circle class="o" style="stroke-width:1.4" cx="692.56" cy="260.7" r="3.65"/>
<circle class="f" cx="695.3" cy="90.55" r="4.4"/>
<circle class="o" style="stroke-width:1.4" cx="695.31" cy="260.7" r="3.65"/>
<circle class="f" cx="698.05" cy="79.05" r="4.4"/>
<circle class="o" style="stroke-width:1.4" cx="698.07" cy="260.7" r="3.65"/>
<circle class="f" cx="700.8" cy="62.3" r="4.4"/>
<circle class="o" style="stroke-width:1.4" cx="700.83" cy="260.7" r="3.65"/>
<circle class="f" cx="703.55" cy="73.3" r="4.4"/>
<circle class="o" style="stroke-width:1.4" cx="703.58" cy="260.7" r="3.65"/>
<circle class="f" cx="706.3" cy="57.3" r="4.4"/>
<circle class="o" style="stroke-width:1.4" cx="706.34" cy="262" r="3.65"/>
<circle class="f" cx="709.05" cy="106.8" r="4.4"/>
<circle class="o" style="stroke-width:1.4" cx="709.09" cy="257.8" r="3.65"/>
<circle class="f" cx="711.8" cy="156.55" r="4.4"/>
<circle class="o" style="stroke-width:1.4" cx="711.85" cy="260.7" r="3.65"/>
<circle class="f" cx="714.55" cy="82.05" r="4.4"/>
<circle class="o" style="stroke-width:1.4" cx="714.6" cy="260.7" r="3.65"/>
<circle class="f" cx="717.3" cy="119.8" r="4.4"/>
<circle class="o" style="stroke-width:1.4" cx="717.36" cy="260.7" r="3.65"/>
<circle class="f" cx="720.05" cy="111.05" r="4.4"/>
<circle class="o" style="stroke-width:1.4" cx="720.11" cy="260.7" r="3.65"/>
<circle class="f" cx="722.8" cy="125.8" r="4.4"/>
<circle class="o" style="stroke-width:1.4" cx="722.87" cy="260.7" r="3.65"/>
<circle class="f" cx="725.55" cy="101.55" r="4.4"/>
<circle class="o" style="stroke-width:1.4" cx="725.62" cy="257.8" r="3.65"/>
<circle class="f" cx="728.3" cy="92.05" r="4.4"/>
<circle class="o" style="stroke-width:1.4" cx="728.38" cy="260.7" r="3.65"/>
<circle class="f" cx="731.05" cy="116.8" r="4.4"/>
<circle class="o" style="stroke-width:1.4" cx="731.13" cy="260.7" r="3.65"/>
<circle class="f" cx="733.8" cy="119.05" r="4.4"/>
<circle class="o" style="stroke-width:1.4" cx="733.88" cy="260.7" r="3.65"/>
<circle class="f" cx="736.55" cy="80.55" r="4.4"/>
<circle class="o" style="stroke-width:1.4" cx="736.64" cy="257.9" r="3.65"/>
<circle class="f" cx="739.3" cy="151.3" r="4.4"/>
<circle class="o" style="stroke-width:1.4" cx="739.39" cy="260.7" r="3.65"/>
<circle class="f" cx="742.05" cy="128.3" r="4.4"/>
<circle class="o" style="stroke-width:1.4" cx="742.15" cy="260.7" r="3.65"/>
<circle class="f" cx="744.8" cy="117.3" r="4.4"/>
<circle class="o" style="stroke-width:1.4" cx="744.9" cy="260.7" r="3.65"/>
<circle class="f" cx="747.55" cy="131.8" r="4.4"/>
<circle class="o" style="stroke-width:1.4" cx="747.66" cy="260.7" r="3.65"/>
<circle class="f" cx="750.3" cy="122.8" r="4.4"/>
<circle class="o" style="stroke-width:1.4" cx="750.41" cy="260.7" r="3.65"/>
<circle class="f" cx="753.05" cy="92.8" r="4.4"/>
<circle class="o" style="stroke-width:1.4" cx="753.17" cy="260.7" r="3.65"/>
<circle class="f" cx="755.8" cy="101.55" r="4.4"/>
<circle class="o" style="stroke-width:1.4" cx="755.92" cy="260.7" r="3.65"/>
<circle class="f" cx="758.55" cy="107.8" r="4.4"/>
<circle class="o" style="stroke-width:1.4" cx="758.68" cy="260.7" r="3.65"/>
<circle class="f" cx="761.3" cy="96.55" r="4.4"/>
<circle class="o" style="stroke-width:1.4" cx="761.43" cy="260.7" r="3.65"/>
<circle class="f" cx="764.05" cy="152.05" r="4.4"/>
<circle class="o" style="stroke-width:1.4" cx="764.19" cy="260.7" r="3.65"/>
<circle class="f" cx="766.8" cy="123.8" r="4.4"/>
<circle class="o" style="stroke-width:1.4" cx="766.94" cy="260.7" r="3.65"/>
<circle class="f" cx="769.55" cy="150.8" r="4.4"/>
<circle class="o" style="stroke-width:1.4" cx="769.7" cy="260.7" r="3.65"/>
<circle class="f" cx="772.3" cy="141.05" r="4.4"/>
<circle class="o" style="stroke-width:1.4" cx="772.45" cy="259.6" r="3.65"/>
<circle class="f" cx="775.05" cy="90.3" r="4.4"/>
<circle class="o" style="stroke-width:1.4" cx="775.21" cy="260.7" r="3.65"/>
<circle class="f" cx="777.8" cy="92.05" r="4.4"/>
<circle class="o" style="stroke-width:1.4" cx="777.96" cy="260.7" r="3.65"/>
<circle class="f" cx="780.55" cy="42.3" r="4.4"/>
<circle class="o" style="stroke-width:1.4" cx="780.72" cy="260.7" r="3.65"/>
<circle class="f" cx="783.3" cy="49.8" r="4.4"/>
<circle class="o" style="stroke-width:1.4" cx="783.47" cy="260.7" r="3.65"/>
<circle class="f" cx="786.05" cy="45.3" r="4.4"/>
<circle class="o" style="stroke-width:1.4" cx="786.23" cy="260.7" r="3.65"/>
<circle class="f" cx="788.8" cy="102.3" r="4.4"/>
<circle class="o" style="stroke-width:1.4" cx="788.98" cy="260.7" r="3.65"/>
<circle class="f" cx="791.55" cy="120.8" r="4.4"/>
<circle class="o" style="stroke-width:1.4" cx="791.74" cy="260.7" r="3.65"/>
<circle class="f" cx="794.3" cy="117.8" r="4.4"/>
<circle class="o" style="stroke-width:1.4" cx="794.5" cy="260.7" r="3.65"/>
<circle class="f" cx="797.05" cy="115.3" r="4.4"/>
<circle class="o" style="stroke-width:1.4" cx="797.25" cy="260.7" r="3.65"/>
<circle class="f" cx="799.8" cy="122.05" r="4.4"/>
<circle class="o" style="stroke-width:1.4" cx="800.0" cy="260.7" r="3.65"/>
<circle class="f" cx="802.55" cy="114.55" r="4.4"/>
<circle class="o" style="stroke-width:1.4" cx="802.76" cy="260.7" r="3.65"/>
<circle class="f" cx="805.3" cy="72.05" r="4.4"/>
<circle class="o" style="stroke-width:1.4" cx="805.51" cy="260.7" r="3.65"/>
<circle class="f" cx="808.05" cy="73.3" r="4.4"/>
<circle class="o" style="stroke-width:1.4" cx="808.27" cy="260.7" r="3.65"/>
<circle class="f" cx="810.8" cy="144.3" r="4.4"/>
<circle class="o" style="stroke-width:1.4" cx="811.02" cy="260.7" r="3.65"/>
<circle class="f" cx="813.55" cy="130.3" r="4.4"/>
<circle class="o" style="stroke-width:1.4" cx="813.78" cy="259.6" r="3.65"/>
<circle class="f" cx="816.3" cy="138.55" r="4.4"/>
<circle class="o" style="stroke-width:1.4" cx="816.53" cy="260.7" r="3.65"/>
<circle class="f" cx="819.05" cy="31.3" r="4.4"/>
<circle class="o" style="stroke-width:1.4" cx="819.29" cy="260.7" r="3.65"/>
<circle class="f" cx="821.8" cy="125.3" r="4.4"/>
<circle class="o" style="stroke-width:1.4" cx="822.04" cy="260.7" r="3.65"/>
<circle class="f" cx="824.55" cy="131.8" r="4.4"/>
<circle class="o" style="stroke-width:1.4" cx="824.8" cy="260.7" r="3.65"/>
<circle class="f" cx="827.3" cy="142.05" r="4.4"/>
<circle class="o" style="stroke-width:1.4" cx="827.55" cy="260.7" r="3.65"/>
<circle class="f" cx="830.05" cy="101.05" r="4.4"/>
<circle class="o" style="stroke-width:1.4" cx="830.31" cy="260.7" r="3.65"/>
</g>
<g id="pts-c">
<circle class="f" cx="61.05" cy="495.8" r="4.4"/>
<circle class="f" cx="64.05" cy="540.3" r="4.4"/>
<circle class="f" cx="66.8" cy="522.8" r="4.4"/>
<circle class="f" cx="69.8" cy="524.05" r="4.4"/>
<circle class="f" cx="72.3" cy="492.8" r="4.4"/>
<circle class="f" cx="75.05" cy="511.05" r="4.4"/>
<circle class="f" cx="77.8" cy="503.55" r="4.4"/>
<circle class="f" cx="80.55" cy="488.3" r="4.4"/>
<circle class="f" cx="83.3" cy="529.8" r="4.4"/>
<circle class="f" cx="86.05" cy="469.8" r="4.4"/>
<circle class="f" cx="91.55" cy="487.3" r="4.4"/>
<circle class="f" cx="94.3" cy="520.3" r="4.4"/>
<circle class="f" cx="97.05" cy="509.8" r="4.4"/>
<circle class="f" cx="99.8" cy="485.3" r="4.4"/>
<circle class="f" cx="102.3" cy="456.05" r="4.4"/>
<circle class="f" cx="105.3" cy="504.8" r="4.4"/>
<circle class="f" cx="108.05" cy="485.3" r="4.4"/>
<circle class="f" cx="110.8" cy="522.3" r="4.4"/>
<circle class="f" cx="113.55" cy="523.55" r="4.4"/>
<circle class="f" cx="116.3" cy="491.05" r="4.4"/>
<circle class="f" cx="119.05" cy="482.3" r="4.4"/>
<circle class="f" cx="121.8" cy="492.8" r="4.4"/>
<circle class="f" cx="124.55" cy="516.05" r="4.4"/>
<circle class="f" cx="127.3" cy="502.05" r="4.4"/>
<circle class="f" cx="130.05" cy="498.55" r="4.4"/>
<circle class="f" cx="132.8" cy="509.8" r="4.4"/>
<circle class="f" cx="135.55" cy="487.05" r="4.4"/>
<circle class="f" cx="138.3" cy="490.3" r="4.4"/>
<circle class="f" cx="141.05" cy="541.8" r="4.4"/>
<circle class="f" cx="146.55" cy="502.8" r="4.4"/>
<circle class="f" cx="149.3" cy="514.55" r="4.4"/>
<circle class="f" cx="152.05" cy="508.3" r="4.4"/>
<circle class="f" cx="154.55" cy="547.8" r="4.4"/>
<circle class="f" cx="157.3" cy="536.05" r="4.4"/>
<circle class="f" cx="160.05" cy="506.55" r="4.4"/>
<circle class="f" cx="162.8" cy="519.8" r="4.4"/>
<circle class="f" cx="168.3" cy="504.8" r="4.4"/>
<circle class="f" cx="171.05" cy="533.55" r="4.4"/>
<circle class="f" cx="173.8" cy="539.8" r="4.4"/>
<circle class="f" cx="176.55" cy="526.3" r="4.4"/>
<circle class="f" cx="179.3" cy="491.05" r="4.4"/>
<circle class="f" cx="182.05" cy="533.55" r="4.4"/>
<circle class="f" cx="184.8" cy="546.55" r="4.4"/>
<circle class="f" cx="187.55" cy="512.3" r="4.4"/>
<circle class="f" cx="190.3" cy="480.8" r="4.4"/>
<circle class="f" cx="193.05" cy="515.3" r="4.4"/>
<circle class="f" cx="195.8" cy="520.3" r="4.4"/>
<circle class="f" cx="201.3" cy="485.3" r="4.4"/>
<circle class="f" cx="204.05" cy="479.05" r="4.4"/>
<circle class="f" cx="206.8" cy="466.55" r="4.4"/>
<circle class="f" cx="209.55" cy="498.55" r="4.4"/>
<circle class="f" cx="212.2" cy="464.8" r="4.4"/>
<circle class="f" cx="212.3" cy="497.8" r="4.4"/>
<circle class="f" cx="214.8" cy="457.8" r="4.4"/>
<circle class="f" cx="217.8" cy="491.05" r="4.4"/>
<circle class="f" cx="220.3" cy="502.3" r="4.4"/>
<circle class="f" cx="223.05" cy="491.05" r="4.4"/>
<circle class="f" cx="225.8" cy="503.55" r="4.4"/>
<circle class="f" cx="228.55" cy="425.3" r="4.4"/>
<circle class="f" cx="231.3" cy="434.05" r="4.4"/>
<circle class="f" cx="234.05" cy="490.8" r="4.4"/>
<circle class="f" cx="236.8" cy="449.05" r="4.4"/>
<circle class="f" cx="239.55" cy="492.3" r="4.4"/>
<circle class="f" cx="245.05" cy="469.55" r="4.4"/>
<circle class="f" cx="247.8" cy="498.55" r="4.4"/>
<circle class="f" cx="250.55" cy="517.05" r="4.4"/>
<circle class="f" cx="253.3" cy="509.8" r="4.4"/>
<circle class="f" cx="256.05" cy="510.3" r="4.4"/>
<circle class="f" cx="258.8" cy="526.05" r="4.4"/>
<circle class="f" cx="261.55" cy="545.3" r="4.4"/>
<circle class="f" cx="264.3" cy="511.05" r="4.4"/>
<circle class="f" cx="266.8" cy="340.8" r="4.4"/>
<circle class="f" cx="269.8" cy="518.55" r="4.4"/>
<circle class="f" cx="272.55" cy="480.8" r="4.4"/>
<circle class="f" cx="275.3" cy="440.3" r="4.4"/>
<circle class="f" cx="278.05" cy="527.8" r="4.4"/>
<circle class="f" cx="280.8" cy="551.05" r="4.4"/>
<circle class="f" cx="286.3" cy="497.05" r="4.4"/>
<circle class="f" cx="289.05" cy="527.8" r="4.4"/>
<circle class="f" cx="291.8" cy="508.3" r="4.4"/>
<circle class="f" cx="294.55" cy="492.8" r="4.4"/>
<circle class="f" cx="297.3" cy="431.3" r="4.4"/>
<circle class="f" cx="299.8" cy="461.55" r="4.4"/>
<circle class="f" cx="302.8" cy="531.05" r="4.4"/>
<circle class="f" cx="305.55" cy="541.55" r="4.4"/>
<circle class="f" cx="313.8" cy="499.55" r="4.4"/>
<circle class="f" cx="316.55" cy="483.3" r="4.4"/>
<circle class="f" cx="319.3" cy="475.8" r="4.4"/>
<circle class="f" cx="322.05" cy="468.3" r="4.4"/>
<circle class="f" cx="324.8" cy="467.3" r="4.4"/>
<circle class="f" cx="327.3" cy="483.3" r="4.4"/>
<circle class="f" cx="330.05" cy="451.55" r="4.4"/>
<circle class="f" cx="332.8" cy="526.05" r="4.4"/>
<circle class="f" cx="335.55" cy="515.8" r="4.4"/>
<circle class="f" cx="338.3" cy="440.3" r="4.4"/>
<circle class="f" cx="341.05" cy="487.05" r="4.4"/>
<circle class="f" cx="343.8" cy="449.8" r="4.4"/>
<circle class="f" cx="352.05" cy="434.05" r="4.4"/>
<circle class="f" cx="354.8" cy="447.8" r="4.4"/>
<circle class="f" cx="357.55" cy="452.8" r="4.4"/>
<circle class="f" cx="360.3" cy="551.05" r="4.4"/>
<circle class="f" cx="363.05" cy="500.3" r="4.4"/>
<circle class="f" cx="368.55" cy="464.8" r="4.4"/>
<circle class="f" cx="371.3" cy="457.3" r="4.4"/>
<circle class="f" cx="376.55" cy="547.3" r="4.4"/>
<circle class="f" cx="379.3" cy="552.3" r="4.4"/>
<circle class="f" cx="382.05" cy="469.8" r="4.4"/>
<circle class="f" cx="384.8" cy="479.05" r="4.4"/>
<circle class="f" cx="390.3" cy="489.05" r="4.4"/>
<circle class="f" cx="393.3" cy="461.55" r="4.4"/>
<circle class="f" cx="395.8" cy="479.05" r="4.4"/>
<circle class="o" cx="61.25" cy="464.8" r="3.9"/>
<circle class="o" cx="64.0" cy="488.3" r="3.9"/>
<circle class="o" cx="66.75" cy="479.05" r="3.9"/>
<circle class="o" cx="69.5" cy="467.8" r="3.9"/>
<circle class="o" cx="72.25" cy="472.8" r="3.9"/>
<circle class="o" cx="74.5" cy="457.8" r="3.9"/>
<circle class="o" cx="77.75" cy="480.8" r="3.9"/>
<circle class="o" cx="80.0" cy="399.05" r="3.9"/>
<circle class="o" cx="83.25" cy="419.05" r="3.9"/>
<circle class="o" cx="85.75" cy="500.8" r="3.9"/>
<circle class="o" cx="88.5" cy="487.05" r="3.9"/>
<circle class="o" cx="91.25" cy="455.8" r="3.9"/>
<circle class="o" cx="94.0" cy="442.05" r="3.9"/>
<circle class="o" cx="97.0" cy="382.3" r="3.9"/>
<circle class="o" cx="99.5" cy="428.3" r="3.9"/>
<circle class="o" cx="102.0" cy="449.8" r="3.9"/>
<circle class="o" cx="105.0" cy="444.05" r="3.9"/>
<circle class="o" cx="107.75" cy="468.55" r="3.9"/>
<circle class="o" cx="110.5" cy="440.55" r="3.9"/>
<circle class="o" cx="113.25" cy="449.8" r="3.9"/>
<circle class="o" cx="116.0" cy="471.55" r="3.9"/>
<circle class="o" cx="118.75" cy="474.8" r="3.9"/>
<circle class="o" cx="121.5" cy="481.55" r="3.9"/>
<circle class="o" cx="124.25" cy="468.55" r="3.9"/>
<circle class="o" cx="127.0" cy="482.3" r="3.9"/>
<circle class="o" cx="129.75" cy="491.05" r="3.9"/>
<circle class="o" cx="132.5" cy="488.3" r="3.9"/>
<circle class="o" cx="135.25" cy="494.05" r="3.9"/>
<circle class="o" cx="138.0" cy="496.05" r="3.9"/>
<circle class="o" cx="140.75" cy="514.3" r="3.9"/>
<circle class="o" cx="143.5" cy="497.8" r="3.9"/>
<circle class="o" cx="146.25" cy="493.3" r="3.9"/>
<circle class="o" cx="149.0" cy="489.8" r="3.9"/>
<circle class="o" cx="151.5" cy="447.8" r="3.9"/>
<circle class="o" cx="157.0" cy="479.05" r="3.9"/>
<circle class="o" cx="160.0" cy="426.55" r="3.9"/>
<circle class="o" cx="162.5" cy="470.3" r="3.9"/>
<circle class="o" cx="165.25" cy="467.3" r="3.9"/>
<circle class="o" cx="168.0" cy="424.05" r="3.9"/>
<circle class="o" cx="170.75" cy="480.8" r="3.9"/>
<circle class="o" cx="173.5" cy="467.8" r="3.9"/>
<circle class="o" cx="176.25" cy="471.55" r="3.9"/>
<circle class="o" cx="179.0" cy="432.8" r="3.9"/>
<circle class="o" cx="181.75" cy="437.3" r="3.9"/>
<circle class="o" cx="184.5" cy="449.05" r="3.9"/>
<circle class="o" cx="187.25" cy="454.05" r="3.9"/>
<circle class="o" cx="190.0" cy="428.3" r="3.9"/>
<circle class="o" cx="192.5" cy="382.3" r="3.9"/>
<circle class="o" cx="195.5" cy="491.05" r="3.9"/>
<circle class="o" cx="198.25" cy="492.3" r="3.9"/>
<circle class="o" cx="201.0" cy="491.05" r="3.9"/>
<circle class="o" cx="203.75" cy="447.8" r="3.9"/>
<circle class="o" cx="206.5" cy="473.55" r="3.9"/>
<circle class="o" cx="208.75" cy="419.05" r="3.9"/>
<circle class="o" cx="211.75" cy="417.8" r="3.9"/>
<circle class="o" cx="214.5" cy="422.05" r="3.9"/>
<circle class="o" cx="217.25" cy="429.8" r="3.9"/>
<circle class="o" cx="220.0" cy="440.3" r="3.9"/>
<circle class="o" cx="222.75" cy="447.05" r="3.9"/>
<circle class="o" cx="225.5" cy="440.3" r="3.9"/>
<circle class="o" cx="228.25" cy="445.3" r="3.9"/>
<circle class="o" cx="231.0" cy="460.3" r="3.9"/>
<circle class="o" cx="233.75" cy="440.3" r="3.9"/>
<circle class="o" cx="236.5" cy="456.05" r="3.9"/>
<circle class="o" cx="239.25" cy="465.3" r="3.9"/>
<circle class="o" cx="242.0" cy="460.3" r="3.9"/>
<circle class="o" cx="244.75" cy="447.3" r="3.9"/>
<circle class="o" cx="247.5" cy="450.3" r="3.9"/>
<circle class="o" cx="250.25" cy="443.55" r="3.9"/>
<circle class="o" cx="253.0" cy="452.8" r="3.9"/>
<circle class="o" cx="255.75" cy="435.8" r="3.9"/>
<circle class="o" cx="258.5" cy="484.8" r="3.9"/>
<circle class="o" cx="261.25" cy="484.8" r="3.9"/>
<circle class="o" cx="264.0" cy="469.8" r="3.9"/>
<circle class="o" cx="266.5" cy="449.8" r="3.9"/>
<circle class="o" cx="269.5" cy="435.3" r="3.9"/>
<circle class="o" cx="272.25" cy="449.05" r="3.9"/>
<circle class="o" cx="275.0" cy="432.8" r="3.9"/>
<circle class="o" cx="277.75" cy="486.55" r="3.9"/>
<circle class="o" cx="280.5" cy="502.3" r="3.9"/>
<circle class="o" cx="283.25" cy="500.8" r="3.9"/>
<circle class="o" cx="286.0" cy="480.8" r="3.9"/>
<circle class="o" cx="288.75" cy="473.3" r="3.9"/>
<circle class="o" cx="291.5" cy="466.55" r="3.9"/>
<circle class="o" cx="294.25" cy="488.3" r="3.9"/>
<circle class="o" cx="297.0" cy="473.3" r="3.9"/>
<circle class="o" cx="299.75" cy="491.05" r="3.9"/>
<circle class="o" cx="302.5" cy="480.8" r="3.9"/>
<circle class="o" cx="305.25" cy="491.05" r="3.9"/>
<circle class="o" cx="308.0" cy="486.55" r="3.9"/>
<circle class="o" cx="310.75" cy="489.05" r="3.9"/>
<circle class="o" cx="313.5" cy="495.3" r="3.9"/>
<circle class="o" cx="316.25" cy="492.3" r="3.9"/>
<circle class="o" cx="319.0" cy="506.05" r="3.9"/>
<circle class="o" cx="321.75" cy="486.55" r="3.9"/>
<circle class="o" cx="324.5" cy="480.8" r="3.9"/>
<circle class="o" cx="327.0" cy="486.55" r="3.9"/>
<circle class="o" cx="329.75" cy="491.05" r="3.9"/>
<circle class="o" cx="332.5" cy="497.05" r="3.9"/>
<circle class="o" cx="335.25" cy="495.8" r="3.9"/>
<circle class="o" cx="338.0" cy="497.05" r="3.9"/>
<circle class="o" cx="340.75" cy="489.8" r="3.9"/>
<circle class="o" cx="343.5" cy="486.55" r="3.9"/>
<circle class="o" cx="346.25" cy="482.8" r="3.9"/>
<circle class="o" cx="349.0" cy="488.3" r="3.9"/>
<circle class="o" cx="351.75" cy="490.3" r="3.9"/>
<circle class="o" cx="354.5" cy="491.05" r="3.9"/>
<circle class="o" cx="357.25" cy="503.55" r="3.9"/>
<circle class="o" cx="360.0" cy="492.3" r="3.9"/>
<circle class="o" cx="362.75" cy="489.55" r="3.9"/>
<circle class="o" cx="365.5" cy="488.3" r="3.9"/>
<circle class="o" cx="368.25" cy="486.55" r="3.9"/>
<circle class="o" cx="371.0" cy="482.3" r="3.9"/>
<circle class="o" cx="373.75" cy="495.8" r="3.9"/>
<circle class="o" cx="376.5" cy="483.3" r="3.9"/>
<circle class="o" cx="379.0" cy="511.05" r="3.9"/>
<circle class="o" cx="381.75" cy="505.3" r="3.9"/>
<circle class="o" cx="384.5" cy="500.8" r="3.9"/>
<circle class="o" cx="387.25" cy="502.8" r="3.9"/>
<circle class="o" cx="390.0" cy="497.05" r="3.9"/>
<circle class="o" cx="392.75" cy="491.05" r="3.9"/>
<circle class="o" cx="395.5" cy="486.55" r="3.9"/>
<polyline class="ln" points="63.8,540.0 64.7,480.0 65.3,460.0 66.0,440.0 66.5,425.0 67.1,410.0 68.0,380.0 68.8,365.1 69.5,350.3 70.4,350.9 71.4,351.5 72.3,352.1 73.2,350.8 74.0,349.6 74.9,348.3 75.5,350.5 76.0,352.6 76.8,357.8 77.5,363.1 78.3,368.3 79.1,373.5 79.9,378.1 80.8,382.7 81.6,387.4 82.5,392.0 83.3,396.6 84.1,399.2 84.8,401.9 85.6,404.5 86.4,407.1 87.1,407.8 87.8,408.5 88.5,409.2 89.3,408.8 90.2,408.4 91.0,407.9 91.9,407.5 92.7,407.1 93.5,407.9 94.3,408.6 95.1,409.4 95.9,410.2 96.7,410.2 97.5,410.2 98.2,410.2 99.0,410.2 99.8,411.5 100.7,412.7 101.5,414.0 102.4,415.2 103.2,416.5 104.0,417.6 104.9,418.6 105.7,419.7 106.6,420.7 107.4,421.8 108.2,422.6 109.0,423.4 109.8,424.1 110.6,424.9 111.4,424.6 112.2,424.4 112.9,424.1 113.7,423.9 114.5,425.4 115.2,427.0 116.0,428.6 116.8,430.1 117.6,431.6 118.5,433.1 119.3,434.5 120.2,436.0 121.0,437.5 121.8,438.0 122.7,438.6 123.5,439.1 124.4,439.7 125.2,440.2 126.0,441.1 126.9,442.0 127.7,443.0 128.6,443.9 129.4,444.8 130.2,445.9 131.1,446.9 131.9,448.0 132.8,449.0 133.6,450.1 134.4,450.9 135.3,451.8 136.1,452.6 137.0,453.5 137.8,454.3 138.5,456.6 139.3,458.9 140.0,461.2 141.0,463.2 142.0,465.2 142.9,467.1 143.9,469.1 144.9,471.1 145.9,472.2 146.8,473.3 147.8,474.4 148.8,475.5 149.7,476.6 150.7,477.7 151.5,476.4 152.3,475.1 153.2,473.7 154.0,472.4 154.8,471.1 155.8,468.9 156.8,466.8 157.8,464.6 158.8,462.5 159.8,460.3 160.6,462.0 161.5,463.6 162.3,465.3 163.3,465.4 164.2,465.6 165.2,465.7 166.2,465.8 167.1,466.0 168.1,466.1 169.1,466.0 170.0,465.8 170.9,465.7 171.9,465.6 172.9,465.4 173.8,465.3 174.8,463.6 175.7,462.0 176.7,460.4 177.7,458.7 178.6,457.0 179.6,455.4 180.4,453.5 181.2,451.6 182.1,449.8 182.9,447.9 183.7,447.0 184.6,446.1 185.4,445.1 186.3,444.2 187.1,443.3 188.1,443.1 189.1,442.8 190.0,442.6 191.0,442.3 192.0,442.1 193.0,441.6 193.9,441.2 194.9,440.7 195.9,440.2 196.8,439.8 197.8,439.3 198.6,439.6 199.4,439.9 200.3,440.2 201.1,440.5 202.1,437.8 203.1,435.0 204.0,436.6 204.9,438.2 205.8,439.8 206.8,441.4 207.7,443.0 208.6,444.6 209.5,443.7 210.4,442.8 211.4,441.8 212.3,440.9 213.2,440.0 214.2,439.1 215.1,438.1 216.0,437.2 216.9,436.0 217.9,434.8 218.8,433.6 219.8,432.5 220.7,431.3 221.7,430.1 222.6,428.9 223.6,430.0 224.6,431.1 225.6,432.2 226.5,431.9 227.4,431.6 228.2,431.2 229.1,430.9 230.0,430.6 230.8,429.8 231.7,428.9 232.5,428.1 233.3,426.8 234.2,425.5 235.0,424.1 235.8,422.8 236.6,424.9 237.4,427.1 238.3,429.2 239.1,431.4 240.1,429.5 241.1,427.5 242.0,425.6 243.0,423.7 244.0,421.7 245.0,419.8 245.9,417.9 246.9,415.9 247.9,414.0 248.8,419.3 249.8,424.5 250.7,429.8 251.7,428.7 252.6,427.6 253.6,426.5 254.6,425.3 255.5,424.2 256.5,423.1 257.3,427.6 258.1,432.2 259.1,437.3 260.0,442.4 260.9,447.5 261.9,452.6 262.8,451.9 263.8,451.1 264.7,450.4 265.6,449.6 266.5,447.1 267.4,444.6 268.3,442.1 269.1,442.9 269.9,443.8 270.8,444.6 271.6,445.5 272.4,446.3 273.2,446.6 274.1,446.9 274.9,447.3 275.8,447.6 276.6,447.9 277.4,450.6 278.2,453.3 279.1,456.1 279.9,458.8 280.7,461.5 281.5,460.2 282.4,458.9 283.2,457.5 284.0,456.2 285.0,456.9 286.0,457.6 287.0,458.4 288.0,459.1 289.0,459.8 289.8,459.1 290.6,458.4 291.5,457.7 292.3,457.0 293.1,454.5 293.9,452.0 294.8,449.6 295.6,447.1 296.4,444.6 297.3,448.1 298.2,451.6 299.1,455.2 300.0,458.7 300.9,458.5 301.9,458.4 302.8,458.2 303.8,458.1 304.7,457.9 305.5,459.1 306.4,460.4 307.2,461.6 308.0,462.8 308.8,462.0 309.6,461.2 310.5,460.3 311.3,459.5 312.1,458.7 312.9,458.6 313.7,458.5 314.6,458.4 315.4,458.3 316.2,458.2 317.2,458.6 318.2,459.1 319.2,459.5 320.1,457.7 321.1,456.0 322.0,454.2 322.8,456.6 323.6,458.9 324.5,461.2 325.3,463.6 326.3,464.7 327.2,465.8 328.2,466.9 329.2,468.0 330.1,469.1 331.1,470.2 332.0,470.5 333.0,470.8 333.9,471.1 334.9,471.5 335.8,471.8 336.8,472.1 337.7,472.4 338.7,468.8 339.7,465.2 340.7,461.7 341.7,458.1 342.7,454.5 343.7,450.7 344.7,446.9 345.6,443.1 346.6,439.3 347.6,435.5 348.4,430.9 349.3,426.3 350.1,421.6 351.0,417.0 351.8,412.4 352.8,412.9 353.8,413.5 354.8,414.0 355.7,423.7 356.7,433.3 357.6,443.0 358.4,444.3 359.2,445.6 360.1,447.0 360.9,448.3 361.7,449.6 362.5,448.3 363.3,447.1 364.2,445.8 365.0,444.6 365.8,443.3 366.8,444.0 367.8,444.8 368.8,445.5 369.7,447.4 370.6,449.2 371.5,451.0 372.4,452.9 373.2,453.4 374.1,453.9 374.9,454.4 375.8,454.9 376.6,455.4 377.4,457.4 378.2,459.5 379.1,461.6 379.9,463.6 380.7,462.8 381.6,462.0 382.4,461.2 383.3,457.9 384.1,454.6 385.0,451.2 385.9,447.9 386.7,444.6 387.6,441.3 388.5,444.2 389.4,447.1 390.4,450.0 391.3,452.9 392.2,455.8 393.1,458.7 393.9,460.6 394.8,462.6 395.6,464.5"/>
</g>
<g id="pts-d">
<circle class="o" cx="490.26" cy="564.79" r="3.9"/>
<polyline class="ln" points="489.0,565.0 490.0,563.3"/>
<circle class="f" cx="491.19" cy="455.8" r="4.4"/>
<polyline class="ln" points="490.0,563.3 490.9,561.5 491.9,559.8"/>
<circle class="o" cx="493.07" cy="564.79" r="3.9"/>
<polyline class="ln" points="491.9,559.8 492.8,558.8"/>
<circle class="f" cx="493.98" cy="450.3" r="4.4"/>
<polyline class="ln" points="492.8,558.8 493.7,557.9 494.6,557.0"/>
<circle class="o" cx="495.72" cy="564.46" r="3.9"/>
<polyline class="ln" points="494.6,557.0 495.5,556.0"/>
<circle class="f" cx="496.76" cy="447.8" r="4.4"/>
<polyline class="ln" points="495.5,556.0 496.5,555.1 497.4,554.2"/>
<circle class="o" cx="498.53" cy="565.12" r="3.9"/>
<polyline class="ln" points="497.4,554.2 498.4,553.3"/>
<circle class="f" cx="499.55" cy="457.3" r="4.4"/>
<polyline class="ln" points="498.4,553.3 499.4,552.4 500.2,552.8"/>
<circle class="o" cx="501.34" cy="562.81" r="3.9"/>
<polyline class="ln" points="500.2,552.8 501.0,553.2 501.9,553.6"/>
<circle class="f" cx="502.34" cy="438.55" r="4.4"/>
<polyline class="ln" points="501.9,553.6 502.7,554.0 503.6,554.2"/>
<circle class="o" cx="503.98" cy="563.97" r="3.9"/>
<polyline class="ln" points="503.6,554.2 504.5,554.3"/>
<circle class="f" cx="505.13" cy="440.3" r="4.4"/>
<polyline class="ln" points="504.5,554.3 505.4,554.5 506.3,554.7"/>
<circle class="o" cx="506.79" cy="564.46" r="3.9"/>
<polyline class="ln" points="506.3,554.7 507.2,554.9"/>
<circle class="f" cx="507.92" cy="444.55" r="4.4"/>
<polyline class="ln" points="507.2,554.9 508.2,555.0 509.1,555.2"/>
<circle class="o" cx="509.6" cy="564.46" r="3.9"/>
<polyline class="ln" points="509.1,555.2 510.0,555.4"/>
<circle class="f" cx="510.7" cy="467.8" r="4.4"/>
<polyline class="ln" points="510.0,555.4 510.9,555.5 511.8,555.7"/>
<circle class="o" cx="512.58" cy="563.14" r="3.9"/>
<polyline class="ln" points="511.8,555.7 512.7,555.8"/>
<circle class="f" cx="513.49" cy="460.3" r="4.4"/>
<polyline class="ln" points="512.7,555.8 513.6,555.9 514.5,556.0 515.4,556.1"/>
<circle class="o" cx="516.21" cy="556.53" r="3.9"/>
<circle class="f" cx="516.28" cy="449.05" r="4.4"/>
<polyline class="ln" points="515.4,556.1 516.4,556.1 517.3,556.2 518.2,556.3"/>
<circle class="o" cx="518.69" cy="560.17" r="3.9"/>
<circle class="f" cx="519.07" cy="452.8" r="4.4"/>
<polyline class="ln" points="518.2,556.3 519.1,556.4 520.0,556.5 521.0,556.6"/>
<circle class="o" cx="521.34" cy="563.14" r="3.9"/>
<circle class="f" cx="521.86" cy="465.3" r="4.4"/>
<polyline class="ln" points="521.0,556.6 522.0,556.7 523.0,556.8"/>
<circle class="o" cx="524.15" cy="561.49" r="3.9"/>
<polyline class="ln" points="523.0,556.8 524.0,556.9"/>
<circle class="f" cx="524.64" cy="453.3" r="4.4"/>
<polyline class="ln" points="524.0,556.9 525.0,557.0 526.0,557.0"/>
<circle class="o" cx="526.96" cy="560.66" r="3.9"/>
<polyline class="ln" points="526.0,557.0 527.0,557.1"/>
<circle class="f" cx="527.43" cy="454.05" r="4.4"/>
<polyline class="ln" points="527.0,557.1 528.0,557.2 529.0,557.3"/>
<circle class="o" cx="529.93" cy="558.18" r="3.9"/>
<circle class="f" cx="530.22" cy="448.3" r="4.4"/>
<polyline class="ln" points="529.0,557.3 530.0,557.4 531.0,557.6 532.0,557.8"/>
<circle class="o" cx="532.41" cy="562.31" r="3.9"/>
<circle class="f" cx="533.01" cy="429.8" r="4.4"/>
<polyline class="ln" points="532.0,557.8 533.0,558.0 534.0,558.2"/>
<circle class="o" cx="535.22" cy="566.45" r="3.9"/>
<polyline class="ln" points="534.0,558.2 535.0,558.5"/>
<circle class="f" cx="535.8" cy="467.3" r="4.4"/>
<polyline class="ln" points="535.0,558.5 535.9,558.7 536.9,558.9"/>
<circle class="o" cx="538.2" cy="564.79" r="3.9"/>
<polyline class="ln" points="536.9,558.9 537.9,559.1"/>
<circle class="f" cx="538.58" cy="430.8" r="4.4"/>
<polyline class="ln" points="537.9,559.1 538.9,559.3 539.9,559.5"/>
<circle class="o" cx="541.01" cy="562.31" r="3.9"/>
<polyline class="ln" points="539.9,559.5 540.9,559.6"/>
<circle class="f" cx="541.37" cy="457.8" r="4.4"/>
<polyline class="ln" points="540.9,559.6 541.8,559.6 542.8,559.7"/>
<circle class="o" cx="543.98" cy="559.83" r="3.9"/>
<polyline class="ln" points="542.8,559.7 543.8,559.8"/>
<circle class="f" cx="544.16" cy="438.55" r="4.4"/>
<polyline class="ln" points="543.8,559.8 544.8,559.9 545.7,559.9"/>
<circle class="o" cx="546.79" cy="564.46" r="3.9"/>
<circle class="f" cx="546.95" cy="479.55" r="4.4"/>
<polyline class="ln" points="545.7,559.9 546.7,560.0 547.7,560.1 548.6,560.1"/>
<circle class="o" cx="549.44" cy="564.79" r="3.9"/>
<circle class="f" cx="549.74" cy="467.8" r="4.4"/>
<polyline class="ln" points="548.6,560.1 549.6,560.2 550.6,560.3 551.5,560.3"/>
<circle class="o" cx="552.25" cy="564.46" r="3.9"/>
<circle class="f" cx="552.52" cy="465.05" r="4.4"/>
<polyline class="ln" points="551.5,560.3 552.5,560.4 553.5,560.5 554.5,560.6"/>
<circle class="o" cx="555.06" cy="562.81" r="3.9"/>
<circle class="f" cx="555.31" cy="459.8" r="4.4"/>
<polyline class="ln" points="554.5,560.6 555.4,560.6 556.4,560.7 557.4,560.7"/>
<circle class="o" cx="558.03" cy="565.12" r="3.9"/>
<circle class="f" cx="558.1" cy="472.8" r="4.4"/>
<polyline class="ln" points="557.4,560.7 558.3,560.8 559.3,560.8 560.3,560.9"/>
<circle class="o" cx="560.84" cy="564.79" r="3.9"/>
<circle class="f" cx="560.89" cy="482.3" r="4.4"/>
<polyline class="ln" points="560.3,560.9 561.3,560.9 562.2,561.0"/>
<circle class="o" cx="563.49" cy="564.46" r="3.9"/>
<polyline class="ln" points="562.2,561.0 563.2,561.0"/>
<circle class="f" cx="563.68" cy="466.55" r="4.4"/>
<polyline class="ln" points="563.2,561.0 564.2,561.1 565.1,561.1"/>
<circle class="o" cx="566.3" cy="558.18" r="3.9"/>
<polyline class="ln" points="565.1,561.1 566.1,561.2"/>
<circle class="f" cx="566.46" cy="481.05" r="4.4"/>
<polyline class="ln" points="566.1,561.2 567.1,561.2 568.0,561.3"/>
<circle class="o" cx="569.11" cy="564.79" r="3.9"/>
<circle class="f" cx="569.25" cy="481.05" r="4.4"/>
<polyline class="ln" points="568.0,561.3 569.0,561.3 570.0,561.4 571.0,561.4"/>
<circle class="o" cx="571.75" cy="564.46" r="3.9"/>
<circle class="f" cx="572.04" cy="489.05" r="4.4"/>
<polyline class="ln" points="571.0,561.4 571.9,561.5 572.9,561.5 573.9,561.6"/>
<circle class="o" cx="574.56" cy="564.79" r="3.9"/>
<circle class="f" cx="574.83" cy="495.3" r="4.4"/>
<polyline class="ln" points="573.9,561.6 574.8,561.7 575.8,561.8 576.8,561.9"/>
<circle class="o" cx="577.37" cy="565.62" r="3.9"/>
<circle class="f" cx="577.62" cy="475.8" r="4.4"/>
<polyline class="ln" points="576.8,561.9 577.8,562.0 578.7,562.1 579.7,562.2"/>
<circle class="o" cx="580.02" cy="564.79" r="3.9"/>
<circle class="f" cx="580.4" cy="484.05" r="4.4"/>
<polyline class="ln" points="579.7,562.2 580.7,562.3 581.6,562.3"/>
<circle class="o" cx="582.83" cy="563.97" r="3.9"/>
<polyline class="ln" points="581.6,562.3 582.6,562.4"/>
<circle class="f" cx="583.19" cy="475.8" r="4.4"/>
<polyline class="ln" points="582.6,562.4 583.6,562.5 584.5,562.6"/>
<circle class="o" cx="585.64" cy="564.79" r="3.9"/>
<polyline class="ln" points="584.5,562.6 585.5,562.7"/>
<circle class="f" cx="585.98" cy="466.8" r="4.4"/>
<polyline class="ln" points="585.5,562.7 586.5,562.8 587.5,562.9"/>
<circle class="o" cx="588.28" cy="563.97" r="3.9"/>
<polyline class="ln" points="587.5,562.9 588.4,563.0"/>
<circle class="f" cx="588.77" cy="464.05" r="4.4"/>
<polyline class="ln" points="588.4,563.0 589.4,563.1 590.4,563.2"/>
<circle class="o" cx="591.09" cy="564.79" r="3.9"/>
<circle class="f" cx="591.56" cy="457.8" r="4.4"/>
<polyline class="ln" points="590.4,563.2 591.4,563.3 592.3,563.3 593.3,563.4"/>
<circle class="o" cx="593.9" cy="566.12" r="3.9"/>
<circle class="f" cx="594.34" cy="460.3" r="4.4"/>
<polyline class="ln" points="593.3,563.4 594.3,563.5 595.3,563.6 596.2,563.7"/>
<circle class="o" cx="596.55" cy="564.46" r="3.9"/>
<circle class="f" cx="597.13" cy="436.55" r="4.4"/>
<polyline class="ln" points="596.2,563.7 597.2,563.8 598.2,563.8"/>
<circle class="o" cx="599.36" cy="564.46" r="3.9"/>
<polyline class="ln" points="598.2,563.8 599.2,563.9"/>
<circle class="f" cx="599.92" cy="470.8" r="4.4"/>
<polyline class="ln" points="599.2,563.9 600.1,564.0 601.1,564.1"/>
<circle class="o" cx="602.17" cy="565.12" r="3.9"/>
<polyline class="ln" points="601.1,564.1 602.1,564.2"/>
<circle class="f" cx="602.71" cy="469.55" r="4.4"/>
<polyline class="ln" points="602.1,564.2 603.1,564.3 604.0,564.3"/>
<circle class="o" cx="604.81" cy="566.12" r="3.9"/>
<polyline class="ln" points="604.0,564.3 605.0,564.4"/>
<circle class="f" cx="605.5" cy="454.8" r="4.4"/>
<polyline class="ln" points="605.0,564.4 606.0,564.5 607.0,564.5"/>
<circle class="o" cx="607.62" cy="565.12" r="3.9"/>
<circle class="f" cx="608.28" cy="436.55" r="4.4"/>
<polyline class="ln" points="607.0,564.5 608.0,564.5 609.0,564.6 610.0,564.6"/>
<circle class="o" cx="610.43" cy="566.12" r="3.9"/>
<circle class="f" cx="611.07" cy="436.55" r="4.4"/>
<polyline class="ln" points="610.0,564.6 611.0,564.6 612.0,564.6"/>
<circle class="o" cx="613.07" cy="564.46" r="3.9"/>
<polyline class="ln" points="612.0,564.6 613.0,564.6"/>
<circle class="f" cx="613.86" cy="484.05" r="4.4"/>
<polyline class="ln" points="613.0,564.6 614.0,564.6 615.0,564.7"/>
<circle class="o" cx="615.88" cy="565.62" r="3.9"/>
<polyline class="ln" points="615.0,564.7 616.0,564.7"/>
<circle class="f" cx="616.65" cy="437.8" r="4.4"/>
<polyline class="ln" points="616.0,564.7 617.0,564.7 618.0,564.7"/>
<circle class="o" cx="618.69" cy="563.97" r="3.9"/>
<polyline class="ln" points="618.0,564.7 619.0,564.7"/>
<circle class="f" cx="619.44" cy="428.3" r="4.4"/>
<polyline class="ln" points="619.0,564.7 620.0,564.8 621.0,564.8"/>
<circle class="o" cx="621.34" cy="564.46" r="3.9"/>
<circle class="f" cx="622.22" cy="430.3" r="4.4"/>
<polyline class="ln" points="621.0,564.8 622.0,564.8 623.0,564.8 624.0,564.8"/>
<circle class="f" cx="625.01" cy="432.8" r="4.4"/>
<circle class="o" cx="625.01" cy="563.3" r="3.9"/>
<polyline class="ln" points="624.0,564.8 625.0,564.9 626.0,564.9 627.0,564.9"/>
<circle class="f" cx="627.8" cy="390.8" r="4.4"/>
<circle class="o" cx="627.8" cy="563.3" r="3.9"/>
<polyline class="ln" points="627.0,564.9 628.0,564.9 629.0,564.9 630.0,564.9"/>
<circle class="f" cx="630.59" cy="407.3" r="4.4"/>
<circle class="o" cx="630.59" cy="563.3" r="3.9"/>
<polyline class="ln" points="630.0,564.9 631.0,565.0 632.0,565.0 633.0,565.0"/>
<circle class="f" cx="633.38" cy="377.8" r="4.4"/>
<circle class="o" cx="633.38" cy="563.3" r="3.9"/>
<polyline class="ln" points="633.0,565.0 634.0,565.0 635.0,565.0"/>
<circle class="f" cx="636.16" cy="420.3" r="4.4"/>
<circle class="o" cx="636.16" cy="563.3" r="3.9"/>
<polyline class="ln" points="635.0,565.0 636.0,565.1 637.0,565.1 638.0,565.1"/>
<circle class="f" cx="638.95" cy="412.3" r="4.4"/>
<circle class="o" cx="638.95" cy="563.3" r="3.9"/>
<polyline class="ln" points="638.0,565.1 639.0,565.1 640.0,565.1 641.0,565.1"/>
<circle class="f" cx="641.74" cy="410.3" r="4.4"/>
<circle class="o" cx="641.74" cy="563.3" r="3.9"/>
<polyline class="ln" points="641.0,565.1 642.0,565.2 643.0,565.2 644.0,565.2"/>
<circle class="f" cx="644.53" cy="415.3" r="4.4"/>
<circle class="o" cx="644.53" cy="563.3" r="3.9"/>
<polyline class="ln" points="644.0,565.2 645.0,565.2 646.0,565.2 647.0,565.3"/>
<circle class="f" cx="647.32" cy="415.3" r="4.4"/>
<circle class="o" cx="647.32" cy="564.8" r="3.9"/>
<polyline class="ln" points="647.0,565.3 648.0,565.3 649.0,565.3"/>
<circle class="f" cx="650.1" cy="402.8" r="4.4"/>
<circle class="o" cx="650.1" cy="559.8" r="3.9"/>
<polyline class="ln" points="649.0,565.3 650.0,565.3 651.0,565.3 652.0,565.4"/>
<circle class="f" cx="652.89" cy="418.55" r="4.4"/>
<circle class="o" cx="652.89" cy="564.8" r="3.9"/>
<polyline class="ln" points="652.0,565.4 653.0,565.4 654.0,565.4 655.0,565.4"/>
<circle class="f" cx="655.68" cy="413.3" r="4.4"/>
<circle class="o" cx="655.68" cy="564.8" r="3.9"/>
<polyline class="ln" points="655.0,565.4 656.0,565.4 657.0,565.4 658.0,565.5"/>
<circle class="f" cx="658.47" cy="416.55" r="4.4"/>
<circle class="o" cx="658.47" cy="564.8" r="3.9"/>
<polyline class="ln" points="658.0,565.5 659.0,565.5 660.0,565.5"/>
<circle class="f" cx="661.26" cy="395.8" r="4.4"/>
<circle class="o" cx="661.26" cy="564.8" r="3.9"/>
<polyline class="ln" points="660.0,565.5 661.0,565.5 662.0,565.5 663.0,565.5"/>
<circle class="f" cx="664.04" cy="353.3" r="4.4"/>
<circle class="o" cx="664.04" cy="564.8" r="3.9"/>
<polyline class="ln" points="663.0,565.5 664.0,565.5 665.0,565.6 666.0,565.6"/>
<circle class="f" cx="666.83" cy="394.55" r="4.4"/>
<circle class="o" cx="666.83" cy="564.8" r="3.9"/>
<polyline class="ln" points="666.0,565.6 667.0,565.6 668.0,565.6 669.0,565.6"/>
<circle class="f" cx="669.62" cy="417.3" r="4.4"/>
<circle class="o" cx="669.62" cy="564.8" r="3.9"/>
<polyline class="ln" points="669.0,565.6 670.0,565.6 671.0,565.6 672.0,565.6"/>
<circle class="f" cx="672.41" cy="398.3" r="4.4"/>
<circle class="o" cx="672.41" cy="556.5" r="3.9"/>
<polyline class="ln" points="672.0,565.6 673.0,565.7 674.0,565.7"/>
<circle class="f" cx="675.2" cy="372.3" r="4.4"/>
<circle class="o" cx="675.2" cy="564.8" r="3.9"/>
<polyline class="ln" points="674.0,565.7 675.0,565.7 676.0,565.7 677.0,565.7"/>
<circle class="f" cx="677.98" cy="365.3" r="4.4"/>
<circle class="o" cx="677.98" cy="564.8" r="3.9"/>
<polyline class="ln" points="677.0,565.7 678.0,565.7 679.0,565.7 680.0,565.8"/>
<circle class="f" cx="680.77" cy="403.55" r="4.4"/>
<circle class="o" cx="680.77" cy="564.8" r="3.9"/>
<polyline class="ln" points="680.0,565.8 681.0,565.8 682.0,565.8 683.0,565.8"/>
<circle class="f" cx="683.56" cy="407.3" r="4.4"/>
<circle class="o" cx="683.56" cy="564.8" r="3.9"/>
<polyline class="ln" points="683.0,565.8 684.0,565.8 685.0,565.8 686.0,565.8"/>
<circle class="f" cx="686.35" cy="426.05" r="4.4"/>
<circle class="o" cx="686.35" cy="564.8" r="3.9"/>
<polyline class="ln" points="686.0,565.8 687.0,565.8 688.0,565.9"/>
<circle class="f" cx="689.14" cy="445.8" r="4.4"/>
<circle class="o" cx="689.14" cy="564.8" r="3.9"/>
<polyline class="ln" points="688.0,565.9 689.0,565.9 690.0,565.9 691.0,565.9"/>
<circle class="f" cx="691.92" cy="468.3" r="4.4"/>
<circle class="o" cx="691.92" cy="564.8" r="3.9"/>
<polyline class="ln" points="691.0,565.9 692.0,565.9 693.0,565.9 694.0,565.9"/>
<circle class="f" cx="694.71" cy="439.55" r="4.4"/>
<circle class="o" cx="694.71" cy="564.8" r="3.9"/>
<polyline class="ln" points="694.0,565.9 695.0,565.9 696.0,566.0 697.0,566.0"/>
<circle class="f" cx="697.5" cy="419.05" r="4.4"/>
<circle class="o" cx="697.5" cy="561.2" r="3.9"/>
<polyline class="ln" points="697.0,566.0 698.0,566.0 699.0,566.0"/>
<circle class="f" cx="700.29" cy="342.3" r="4.4"/>
<circle class="o" cx="700.29" cy="564.8" r="3.9"/>
<polyline class="ln" points="699.0,566.0 700.0,566.0 701.0,566.0 702.0,566.0"/>
<circle class="f" cx="703.08" cy="419.05" r="4.4"/>
<circle class="o" cx="703.08" cy="564.8" r="3.9"/>
<polyline class="ln" points="702.0,566.0 703.0,566.0 704.0,566.0 705.0,566.0"/>
<circle class="f" cx="705.86" cy="363.55" r="4.4"/>
<circle class="o" cx="705.86" cy="564.8" r="3.9"/>
<polyline class="ln" points="705.0,566.0 706.0,566.0 707.0,566.0 708.0,566.1"/>
<circle class="f" cx="708.65" cy="403.55" r="4.4"/>
<circle class="o" cx="708.65" cy="564.8" r="3.9"/>
<polyline class="ln" points="708.0,566.1 709.0,566.1 710.0,566.1 711.0,566.1"/>
<circle class="f" cx="711.44" cy="492.05" r="4.4"/>
<circle class="o" cx="711.44" cy="564.8" r="3.9"/>
<polyline class="ln" points="711.0,566.1 712.0,566.1 713.0,566.1"/>
<circle class="f" cx="714.23" cy="458.3" r="4.4"/>
<circle class="o" cx="714.23" cy="562.3" r="3.9"/>
<polyline class="ln" points="713.0,566.1 714.0,566.1 715.0,566.1 716.0,566.1"/>
<circle class="f" cx="717.02" cy="452.8" r="4.4"/>
<circle class="o" cx="717.02" cy="564.8" r="3.9"/>
<polyline class="ln" points="716.0,566.1 717.0,566.1 718.0,566.1 719.0,566.1"/>
<circle class="f" cx="719.8" cy="449.05" r="4.4"/>
<circle class="o" cx="719.8" cy="564.8" r="3.9"/>
<polyline class="ln" points="719.0,566.1 720.0,566.1 721.0,566.1 722.0,566.1"/>
<circle class="f" cx="722.59" cy="469.8" r="4.4"/>
<circle class="o" cx="722.59" cy="559.8" r="3.9"/>
<polyline class="ln" points="722.0,566.1 723.0,566.2 724.0,566.2 725.0,566.2"/>
<circle class="f" cx="725.38" cy="432.05" r="4.4"/>
<circle class="o" cx="725.38" cy="564.8" r="3.9"/>
<polyline class="ln" points="725.0,566.2 726.0,566.2 727.0,566.2"/>
<circle class="f" cx="728.17" cy="424.05" r="4.4"/>
<circle class="o" cx="728.17" cy="564.8" r="3.9"/>
<polyline class="ln" points="727.0,566.2 728.0,566.2 729.0,566.2 730.0,566.2"/>
<circle class="f" cx="730.96" cy="425.8" r="4.4"/>
<circle class="o" cx="730.96" cy="564.8" r="3.9"/>
<polyline class="ln" points="730.0,566.2 731.0,566.2 732.0,566.2 733.0,566.2"/>
<circle class="f" cx="733.74" cy="433.55" r="4.4"/>
<circle class="o" cx="733.74" cy="564.8" r="3.9"/>
<polyline class="ln" points="733.0,566.2 734.0,566.2 735.0,566.2 736.0,566.2"/>
<circle class="f" cx="736.53" cy="384.05" r="4.4"/>
<circle class="o" cx="736.53" cy="564.8" r="3.9"/>
<polyline class="ln" points="736.0,566.2 737.0,566.2 738.0,566.3 739.0,566.3"/>
<circle class="f" cx="739.32" cy="486.55" r="4.4"/>
<circle class="o" cx="739.32" cy="564.8" r="3.9"/>
<polyline class="ln" points="739.0,566.3 740.0,566.3 741.0,566.3"/>
<circle class="f" cx="742.11" cy="459.55" r="4.4"/>
<circle class="o" cx="742.11" cy="564.8" r="3.9"/>
<polyline class="ln" points="741.0,566.3 742.0,566.3 743.0,566.3 744.0,566.3"/>
<circle class="f" cx="744.9" cy="441.05" r="4.4"/>
<circle class="o" cx="744.9" cy="564.8" r="3.9"/>
<polyline class="ln" points="744.0,566.3 745.0,566.3 746.0,566.3 747.0,566.3"/>
<circle class="f" cx="747.68" cy="452.8" r="4.4"/>
<circle class="o" cx="747.68" cy="564.8" r="3.9"/>
<polyline class="ln" points="747.0,566.3 748.0,566.3 749.0,566.3 750.0,566.3"/>
<circle class="f" cx="750.47" cy="451.55" r="4.4"/>
<circle class="o" cx="750.47" cy="564.8" r="3.9"/>
<polyline class="ln" points="750.0,566.3 751.0,566.3 752.0,566.3"/>
<circle class="f" cx="753.26" cy="412.8" r="4.4"/>
<circle class="o" cx="753.26" cy="564.8" r="3.9"/>
<polyline class="ln" points="752.0,566.3 753.0,566.4 754.0,566.4 755.0,566.4"/>
<circle class="f" cx="756.05" cy="430.3" r="4.4"/>
<circle class="o" cx="756.05" cy="563.1" r="3.9"/>
<polyline class="ln" points="755.0,566.4 756.0,566.4 757.0,566.4 758.0,566.4"/>
<circle class="f" cx="758.84" cy="423.55" r="4.4"/>
<circle class="o" cx="758.84" cy="564.8" r="3.9"/>
<polyline class="ln" points="758.0,566.4 759.0,566.4 760.0,566.4 761.0,566.4"/>
<circle class="f" cx="761.62" cy="398.3" r="4.4"/>
<circle class="o" cx="761.62" cy="564.8" r="3.9"/>
<polyline class="ln" points="761.0,566.4 762.0,566.4 763.0,566.4 764.0,566.4"/>
<circle class="f" cx="764.41" cy="459.55" r="4.4"/>
<circle class="o" cx="764.41" cy="564.8" r="3.9"/>
<polyline class="ln" points="764.0,566.4 765.0,566.4 766.0,566.4"/>
<circle class="f" cx="767.2" cy="449.05" r="4.4"/>
<circle class="o" cx="767.2" cy="564.8" r="3.9"/>
<polyline class="ln" points="766.0,566.4 767.0,566.4 768.0,566.4 769.0,566.4"/>
<circle class="f" cx="769.99" cy="459.55" r="4.4"/>
<circle class="o" cx="769.99" cy="564.8" r="3.9"/>
<polyline class="ln" points="769.0,566.4 770.0,566.4 771.0,566.4 772.0,566.4"/>
<circle class="f" cx="772.78" cy="444.8" r="4.4"/>
<circle class="o" cx="772.78" cy="564.8" r="3.9"/>
<polyline class="ln" points="772.0,566.4 773.0,566.4 774.0,566.4 775.0,566.4"/>
<circle class="f" cx="775.56" cy="406.05" r="4.4"/>
<circle class="o" cx="775.6" cy="563.14" r="3.9"/>
<polyline class="ln" points="775.0,566.4 776.0,566.4 777.0,566.4"/>
<circle class="o" cx="778.07" cy="567.27" r="3.9"/>
<polyline class="ln" points="777.0,566.4 778.0,566.4"/>
<circle class="f" cx="778.35" cy="415.3" r="4.4"/>
<polyline class="ln" points="778.0,566.4 779.0,566.4 780.0,566.4"/>
<circle class="o" cx="780.88" cy="561.49" r="3.9"/>
<polyline class="ln" points="780.0,566.4 781.0,566.4 782.0,566.4 783.0,566.4"/>
<circle class="o" cx="783.53" cy="561.16" r="3.9"/>
<polyline class="ln" points="783.0,566.4 784.0,566.4 785.0,566.4 786.0,566.4"/>
<circle class="o" cx="786.34" cy="565.62" r="3.9"/>
<circle class="f" cx="786.72" cy="337.3" r="4.4"/>
<polyline class="ln" points="786.0,566.4 787.0,566.4 788.0,566.4"/>
<circle class="o" cx="789.15" cy="557.36" r="3.9"/>
<polyline class="ln" points="788.0,566.4 789.0,566.4"/>
<circle class="f" cx="789.5" cy="407.3" r="4.4"/>
<polyline class="ln" points="789.0,566.4 790.0,566.4 791.0,566.4"/>
<circle class="o" cx="792.12" cy="565.12" r="3.9"/>
<circle class="f" cx="792.29" cy="426.05" r="4.4"/>
<polyline class="ln" points="791.0,566.4 792.0,566.4 793.0,566.4 794.0,566.4"/>
<circle class="o" cx="794.6" cy="547.44" r="3.9"/>
<circle class="f" cx="795.08" cy="447.3" r="4.4"/>
<polyline class="ln" points="794.0,566.4 795.0,566.4 796.0,566.4 797.0,566.4"/>
<circle class="o" cx="797.58" cy="545.29" r="3.9"/>
<circle class="f" cx="797.87" cy="434.55" r="4.4"/>
<polyline class="ln" points="797.0,566.4 798.0,566.4 799.0,566.4 800.0,566.4"/>
<circle class="o" cx="800.39" cy="551.24" r="3.9"/>
<circle class="f" cx="800.66" cy="427.05" r="4.4"/>
<polyline class="ln" points="800.0,566.4 801.0,566.4 802.0,566.4"/>
<circle class="o" cx="803.2" cy="557.36" r="3.9"/>
<polyline class="ln" points="802.0,566.4 803.0,566.4"/>
<circle class="f" cx="803.44" cy="434.55" r="4.4"/>
<polyline class="ln" points="803.0,566.4 804.0,566.4 805.0,566.4"/>
<circle class="o" cx="805.84" cy="556.2" r="3.9"/>
<circle class="f" cx="806.23" cy="395.8" r="4.4"/>
<polyline class="ln" points="805.0,566.4 806.0,566.4 807.0,566.4 808.0,566.4"/>
<circle class="o" cx="808.65" cy="554.05" r="3.9"/>
<circle class="f" cx="809.02" cy="418.55" r="4.4"/>
<polyline class="ln" points="808.0,566.4 809.0,566.4 810.0,566.4 811.0,566.4"/>
<circle class="o" cx="811.46" cy="552.89" r="3.9"/>
<circle class="f" cx="811.81" cy="480.8" r="4.4"/>
<polyline class="ln" points="811.0,566.4 812.0,566.4 813.0,566.4"/>
<circle class="o" cx="814.11" cy="554.05" r="3.9"/>
<polyline class="ln" points="813.0,566.4 814.0,566.4"/>
<circle class="f" cx="814.6" cy="467.3" r="4.4"/>
<polyline class="ln" points="814.0,566.4 815.0,566.4 816.0,566.4"/>
<circle class="o" cx="816.92" cy="557.85" r="3.9"/>
<polyline class="ln" points="816.0,566.4 817.0,566.4"/>
<circle class="f" cx="817.38" cy="448.3" r="4.4"/>
<polyline class="ln" points="817.0,566.4 818.0,566.4 819.0,566.4"/>
<circle class="o" cx="819.73" cy="555.21" r="3.9"/>
<circle class="f" cx="820.17" cy="366.55" r="4.4"/>
<polyline class="ln" points="819.0,566.4 820.0,566.4 821.0,566.4 822.0,566.4"/>
<circle class="o" cx="822.37" cy="561.49" r="3.9"/>
<circle class="f" cx="822.96" cy="448.3" r="4.4"/>
<polyline class="ln" points="822.0,566.4 823.0,566.4 824.0,566.4"/>
<circle class="o" cx="825.18" cy="561.49" r="3.9"/>
<polyline class="ln" points="824.0,566.4 825.0,566.4"/>
<circle class="f" cx="825.75" cy="449.05" r="4.4"/>
<polyline class="ln" points="825.0,566.4 826.0,566.4 827.0,566.4 828.0,566.4"/>
<circle class="o" cx="828.49" cy="564.79" r="3.9"/>
<circle class="f" cx="828.54" cy="432.05" r="4.4"/>
<polyline class="ln" points="828.0,566.4 829.0,566.4 830.0,566.4"/>
<circle class="o" cx="831.3" cy="564.46" r="3.9"/>
<polyline class="ln" points="830.0,566.4 831.0,566.4"/>
<circle class="f" cx="831.32" cy="427.8" r="4.4"/>
<polyline class="ln" points="831.0,566.4 832.0,566.4"/>
</g>
</svg></body></html>
